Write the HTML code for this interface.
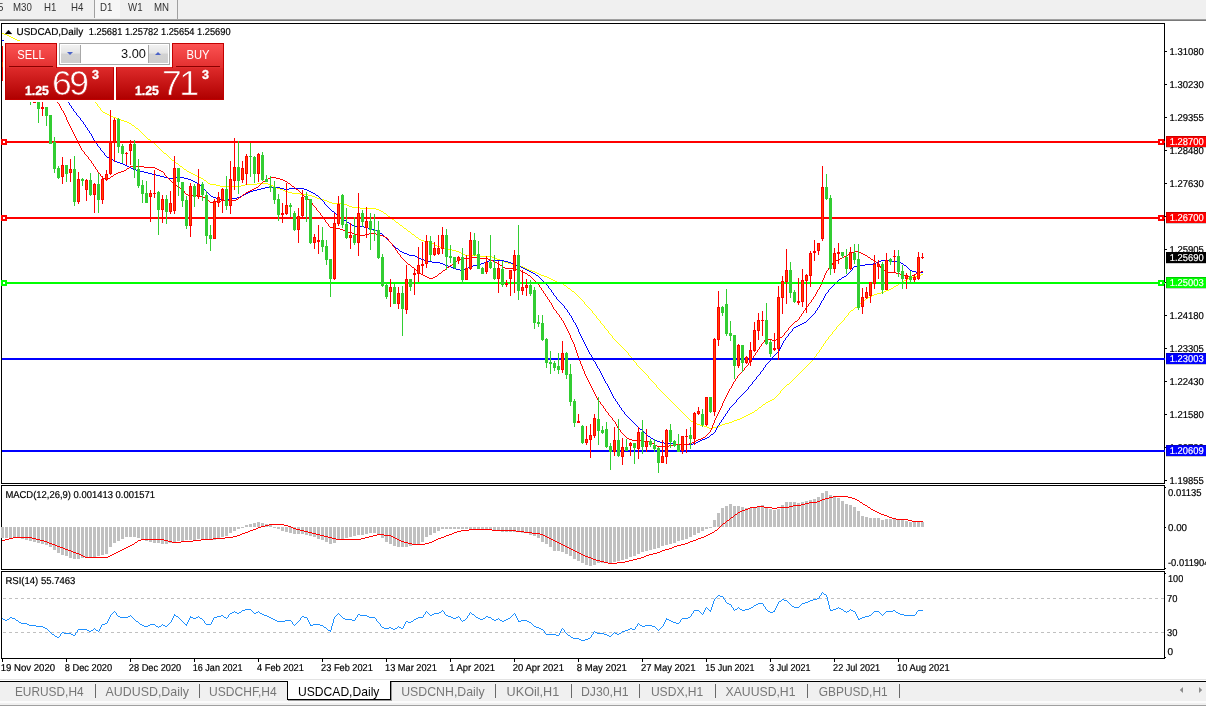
<!DOCTYPE html>
<html lang="en"><head><meta charset="utf-8"><title>USDCAD,Daily</title>
<style>
*{box-sizing:border-box;margin:0;padding:0}
html,body{width:1206px;height:706px;overflow:hidden;background:#fff}
body{position:relative;font-family:"Liberation Sans",Arial,sans-serif;font-size:10px;color:#000}
#toolbar{position:absolute;left:0;top:0;width:1206px;height:19px;background:#f0f0f0}
#toolbar span{position:absolute;top:3.4px;line-height:10px;font-size:10.2px;color:#333;white-space:nowrap;transform:scaleX(.95);transform-origin:0 0}
#tbline1{position:absolute;left:0;top:19px;width:1206px;height:1px;background:#a0a0a0}
#tbline2{position:absolute;left:0;top:20px;width:1206px;height:1px;background:#787878}
#d1btn{position:absolute;left:94px;top:0;width:26px;height:18px;border-left:1px solid #a0a0a0;background:#f6f6f6}
#tbsep{position:absolute;left:177px;top:0;width:1px;height:19px;background:#a0a0a0}
#panel{position:absolute;left:5px;top:43px;width:219px;height:57px}
#pwhite{position:absolute;left:52px;top:0;width:115px;height:25px;background:#fff}
#pbg{position:absolute;left:3px;top:41px;width:223px;height:61px;background:#fff}
.pbtn{position:absolute;top:0;width:52px;height:25px;background:linear-gradient(#fb5252,#e22e2e);border:1px solid #c40000;border-bottom:none;color:#fff;font-size:12px;line-height:12px;text-align:center}
.pbtn b{font-weight:normal;display:block;margin-top:5px;font-size:12.6px;transform:scaleX(.89)}
.pbtn i{position:absolute;left:3px;right:3px;bottom:1px;height:1px;background:#8a0000}
.pprice{position:absolute;top:24px;height:33px;width:109px;background:linear-gradient(#dd2a2a,#b00000);border:1px solid #c00000;border-top-color:#d22;color:#fff}
.pprice .s{position:absolute;font-weight:bold;font-size:12.5px;line-height:12px;bottom:2.5px;transform-origin:0 0;transform:scaleX(.98);-webkit-text-stroke:0.35px #fff}
.pprice .l{position:absolute;font-size:35.5px;line-height:34px;bottom:-0.5px;letter-spacing:-2.6px;margin-left:-1px;-webkit-text-stroke:0.7px #cb1a1a}
.pprice .u{position:absolute;font-weight:bold;font-size:12.5px;line-height:12px;top:0.5px;margin-left:-1px;-webkit-text-stroke:0.35px #fff}
#spin{position:absolute;left:54px;top:0;width:111px;height:22px;border:1px solid #a8a8a8;background:#fff}
#spin .b{position:absolute;top:1px;width:20px;height:18px;background:linear-gradient(#f2f2f2 0%,#e4e4e4 45%,#d2d2d2 50%,#cfcfcf 100%);}
#spin .b.l{border-right:1px solid #a8a8a8}
#spin .b.r{border-left:1px solid #a8a8a8}
#spin .v{position:absolute;right:23px;top:4px;font-size:12.8px;line-height:12px;color:#111}
#tabs{position:absolute;left:0;top:679px;width:1206px;height:27px;background:#f0f0f0}
#tabs .top0{position:absolute;left:0;top:0;width:1206px;height:1px;background:#e3e3e3}
#tabs .top1{position:absolute;left:0;top:1px;width:1206px;height:1px;background:#fff}
#tabs .top{position:absolute;left:0;top:2px;width:1206px;height:1px;background:#000}
#tabs .bot1{position:absolute;left:0;top:22px;width:1206px;height:2px;background:#fbfbfb}
#tabs .bot2{position:absolute;left:0;top:26px;width:1206px;height:1px;background:#a0a0a0}
#tabs span{position:absolute;top:6px;font-size:12px;line-height:12px;color:#7a7a7a;white-space:nowrap}
#tabs u{position:absolute;top:5px;width:1px;height:14px;background:#6a6a6a}
#tabs .act{position:absolute;left:287px;top:2px;width:104px;height:19px;background:#fff;border:1px solid #000;border-top:none;box-shadow:1px 1px 0 #9a9a9a}
#tabs .act span{color:#000;left:11px;top:4px}
</style></head>
<body>
<svg width="1206" height="706" viewBox="0 0 1206 706" shape-rendering="crispEdges" style="position:absolute;left:0;top:0">
<g fill="#000">
<rect x="1" y="23" width="1164" height="1"/>
<rect x="1" y="23" width="1" height="636"/>
<rect x="1164" y="23" width="1" height="636"/>
<rect x="1" y="483" width="1164" height="1"/>
<rect x="1" y="485" width="1164" height="1"/>
<rect x="1" y="569" width="1164" height="1"/>
<rect x="1" y="571" width="1164" height="1"/>
<rect x="1" y="658" width="1164" height="1"/>
<rect x="0" y="484" width="1165" height="1" fill="#fff"/>
<rect x="0" y="570" width="1165" height="1" fill="#fff"/>
<rect x="1165" y="51" width="2" height="1"/>
<rect x="1165" y="84" width="2" height="1"/>
<rect x="1165" y="117" width="2" height="1"/>
<rect x="1165" y="150" width="2" height="1"/>
<rect x="1165" y="183" width="2" height="1"/>
<rect x="1165" y="216" width="2" height="1"/>
<rect x="1165" y="249" width="2" height="1"/>
<rect x="1165" y="282" width="2" height="1"/>
<rect x="1165" y="315" width="2" height="1"/>
<rect x="1165" y="348" width="2" height="1"/>
<rect x="1165" y="381" width="2" height="1"/>
<rect x="1165" y="414" width="2" height="1"/>
<rect x="1165" y="447" width="2" height="1"/>
<rect x="1165" y="480" width="2" height="1"/>
<rect x="1165" y="487" width="1" height="1"/>
<rect x="1165" y="527" width="1" height="1"/>
<rect x="1165" y="568" width="1" height="1"/>
<rect x="1165" y="573" width="1" height="1"/>
<rect x="1165" y="657" width="1" height="1"/>
<rect x="2" y="659" width="1" height="3"/>
<rect x="66" y="659" width="1" height="3"/>
<rect x="130" y="659" width="1" height="3"/>
<rect x="194" y="659" width="1" height="3"/>
<rect x="258" y="659" width="1" height="3"/>
<rect x="322" y="659" width="1" height="3"/>
<rect x="386" y="659" width="1" height="3"/>
<rect x="450" y="659" width="1" height="3"/>
<rect x="514" y="659" width="1" height="3"/>
<rect x="578" y="659" width="1" height="3"/>
<rect x="642" y="659" width="1" height="3"/>
<rect x="706" y="659" width="1" height="3"/>
<rect x="770" y="659" width="1" height="3"/>
<rect x="834" y="659" width="1" height="3"/>
<rect x="898" y="659" width="1" height="3"/>
</g>
<g id="main">
<path fill="#ffff00" d="M2 33h1v1h-1zM3 33h1v1h-1zM4 34h1v1h-1zM5 34h1v1h-1zM6 34h1v1h-1zM7 35h1v1h-1zM8 35h1v1h-1zM9 36h1v1h-1zM10 36h1v1h-1zM11 37h1v1h-1zM12 37h1v1h-1zM13 38h1v1h-1zM14 38h1v1h-1zM15 39h1v1h-1zM16 39h1v1h-1zM17 40h1v1h-1zM18 40h1v1h-1zM19 40h1v1h-1zM20 41h1v1h-1zM21 41h1v1h-1zM22 41h1v1h-1zM23 42h1v1h-1zM24 43h1v1h-1zM25 43h1v1h-1zM26 44h1v1h-1zM27 45h1v1h-1zM28 45h1v1h-1zM29 46h1v1h-1zM30 46h1v1h-1zM31 47h1v1h-1zM32 47h1v1h-1zM33 48h1v1h-1zM34 48h1v1h-1zM35 49h1v1h-1zM36 49h1v1h-1zM37 50h1v1h-1zM38 50h1v1h-1zM39 51h1v1h-1zM40 51h1v1h-1zM41 52h1v1h-1zM42 52h1v1h-1zM43 53h1v1h-1zM44 53h1v1h-1zM45 54h1v1h-1zM46 54h1v1h-1zM47 55h1v1h-1zM48 55h1v1h-1zM49 56h1v1h-1zM50 56h1v1h-1zM51 57h1v1h-1zM52 57h1v1h-1zM53 58h1v1h-1zM54 58h1v1h-1zM55 59h1v1h-1zM56 59h1v1h-1zM57 60h1v1h-1zM58 60h1v1h-1zM59 61h1v1h-1zM60 62h1v1h-1zM61 62h1v1h-1zM62 63h1v1h-1zM63 64h1v1h-1zM64 64h1v1h-1zM65 65h1v1h-1zM66 65h1v1h-1zM67 66h1v1h-1zM68 66h1v1h-1zM69 67h1v1h-1zM70 67h1v1h-1zM71 68h1v2h-1zM72 70h1v1h-1zM73 71h1v2h-1zM74 73h1v1h-1zM75 74h1v1h-1zM76 75h1v2h-1zM77 77h1v1h-1zM78 78h1v1h-1zM79 79h1v2h-1zM80 81h1v1h-1zM81 82h1v2h-1zM82 84h1v1h-1zM83 85h1v1h-1zM84 86h1v2h-1zM85 88h1v1h-1zM86 89h1v1h-1zM87 90h1v2h-1zM88 92h1v1h-1zM89 93h1v2h-1zM90 95h1v1h-1zM91 96h1v1h-1zM92 97h1v2h-1zM93 99h1v1h-1zM94 100h1v1h-1zM95 101h1v2h-1zM96 103h1v1h-1zM97 104h1v2h-1zM98 106h1v1h-1zM99 107h1v1h-1zM100 108h1v2h-1zM101 110h1v1h-1zM102 111h1v1h-1zM103 112h1v1h-1zM104 112h1v1h-1zM105 113h1v1h-1zM106 113h1v1h-1zM107 114h1v1h-1zM108 114h1v1h-1zM109 115h1v1h-1zM110 115h1v1h-1zM111 116h1v1h-1zM112 116h1v1h-1zM113 117h1v1h-1zM114 117h1v1h-1zM115 117h1v1h-1zM116 118h1v1h-1zM117 118h1v1h-1zM118 118h1v1h-1zM119 119h1v1h-1zM120 119h1v1h-1zM121 120h1v1h-1zM122 120h1v1h-1zM123 120h1v1h-1zM124 121h1v1h-1zM125 121h1v1h-1zM126 121h1v1h-1zM127 122h1v1h-1zM128 122h1v1h-1zM129 123h1v1h-1zM130 123h1v1h-1zM131 124h1v1h-1zM132 125h1v1h-1zM133 125h1v1h-1zM134 126h1v1h-1zM135 127h1v1h-1zM136 128h1v1h-1zM137 128h1v1h-1zM138 129h1v1h-1zM139 130h1v1h-1zM140 131h1v1h-1zM141 132h1v1h-1zM142 133h1v1h-1zM143 134h1v1h-1zM144 135h1v1h-1zM145 136h1v1h-1zM146 137h1v1h-1zM147 138h1v1h-1zM148 139h1v1h-1zM149 139h1v1h-1zM150 140h1v1h-1zM151 141h1v1h-1zM152 142h1v1h-1zM153 142h1v1h-1zM154 143h1v1h-1zM155 144h1v1h-1zM156 145h1v1h-1zM157 146h1v1h-1zM158 147h1v1h-1zM159 148h1v1h-1zM160 149h1v1h-1zM161 150h1v1h-1zM162 151h1v1h-1zM163 152h1v1h-1zM164 153h1v1h-1zM165 153h1v1h-1zM166 154h1v1h-1zM167 155h1v1h-1zM168 156h1v1h-1zM169 157h1v1h-1zM170 158h1v1h-1zM171 159h1v1h-1zM172 160h1v1h-1zM173 160h1v1h-1zM174 161h1v1h-1zM175 162h1v1h-1zM176 163h1v1h-1zM177 163h1v1h-1zM178 164h1v1h-1zM179 165h1v1h-1zM180 166h1v1h-1zM181 166h1v1h-1zM182 167h1v1h-1zM183 168h1v1h-1zM184 169h1v1h-1zM185 169h1v1h-1zM186 170h1v1h-1zM187 171h1v1h-1zM188 171h1v1h-1zM189 172h1v1h-1zM190 172h1v1h-1zM191 173h1v1h-1zM192 173h1v1h-1zM193 174h1v1h-1zM194 174h1v1h-1zM195 175h1v1h-1zM196 175h1v1h-1zM197 176h1v1h-1zM198 176h1v1h-1zM199 177h1v1h-1zM200 177h1v1h-1zM201 178h1v1h-1zM202 178h1v1h-1zM203 179h1v1h-1zM204 180h1v1h-1zM205 180h1v1h-1zM206 181h1v1h-1zM207 182h1v1h-1zM208 183h1v1h-1zM209 183h1v1h-1zM210 184h1v1h-1zM211 184h1v1h-1zM212 184h1v1h-1zM213 184h1v1h-1zM214 184h1v1h-1zM215 184h1v1h-1zM216 185h1v1h-1zM217 185h1v1h-1zM218 185h1v1h-1zM219 185h1v1h-1zM220 186h1v1h-1zM221 186h1v1h-1zM222 186h1v1h-1zM223 186h1v1h-1zM224 186h1v1h-1zM225 186h1v1h-1zM226 186h1v1h-1zM227 186h1v1h-1zM228 186h1v1h-1zM229 186h1v1h-1zM230 186h1v1h-1zM231 186h1v1h-1zM232 186h1v1h-1zM233 186h1v1h-1zM234 186h1v1h-1zM235 186h1v1h-1zM236 186h1v1h-1zM237 186h1v1h-1zM238 186h1v1h-1zM239 186h1v1h-1zM240 186h1v1h-1zM241 185h1v1h-1zM242 185h1v1h-1zM243 185h1v1h-1zM244 185h1v1h-1zM245 184h1v1h-1zM246 184h1v1h-1zM247 184h1v1h-1zM248 184h1v1h-1zM249 184h1v1h-1zM250 184h1v1h-1zM251 184h1v1h-1zM252 184h1v1h-1zM253 184h1v1h-1zM254 184h1v1h-1zM255 184h1v1h-1zM256 184h1v1h-1zM257 183h1v1h-1zM258 183h1v1h-1zM259 183h1v1h-1zM260 183h1v1h-1zM261 183h1v1h-1zM262 183h1v1h-1zM263 183h1v1h-1zM264 183h1v1h-1zM265 183h1v1h-1zM266 183h1v1h-1zM267 183h1v1h-1zM268 184h1v1h-1zM269 184h1v1h-1zM270 184h1v1h-1zM271 185h1v1h-1zM272 185h1v1h-1zM273 186h1v1h-1zM274 186h1v1h-1zM275 187h1v1h-1zM276 187h1v1h-1zM277 188h1v1h-1zM278 188h1v1h-1zM279 188h1v1h-1zM280 189h1v1h-1zM281 189h1v1h-1zM282 189h1v1h-1zM283 190h1v1h-1zM284 190h1v1h-1zM285 191h1v1h-1zM286 191h1v1h-1zM287 191h1v1h-1zM288 192h1v1h-1zM289 192h1v1h-1zM290 192h1v1h-1zM291 192h1v1h-1zM292 193h1v1h-1zM293 193h1v1h-1zM294 193h1v1h-1zM295 193h1v1h-1zM296 193h1v1h-1zM297 193h1v1h-1zM298 193h1v1h-1zM299 193h1v1h-1zM300 194h1v1h-1zM301 194h1v1h-1zM302 194h1v1h-1zM303 194h1v1h-1zM304 194h1v1h-1zM305 194h1v1h-1zM306 194h1v1h-1zM307 194h1v1h-1zM308 195h1v1h-1zM309 195h1v1h-1zM310 195h1v1h-1zM311 195h1v1h-1zM312 196h1v1h-1zM313 196h1v1h-1zM314 196h1v1h-1zM315 197h1v1h-1zM316 197h1v1h-1zM317 198h1v1h-1zM318 198h1v1h-1zM319 198h1v1h-1zM320 199h1v1h-1zM321 199h1v1h-1zM322 199h1v1h-1zM323 199h1v1h-1zM324 200h1v1h-1zM325 200h1v1h-1zM326 200h1v1h-1zM327 201h1v1h-1zM328 201h1v1h-1zM329 202h1v1h-1zM330 202h1v1h-1zM331 202h1v1h-1zM332 203h1v1h-1zM333 203h1v1h-1zM334 203h1v1h-1zM335 203h1v1h-1zM336 203h1v1h-1zM337 203h1v1h-1zM338 203h1v1h-1zM339 203h1v1h-1zM340 203h1v1h-1zM341 203h1v1h-1zM342 203h1v1h-1zM343 203h1v1h-1zM344 204h1v1h-1zM345 204h1v1h-1zM346 204h1v1h-1zM347 205h1v1h-1zM348 205h1v1h-1zM349 206h1v1h-1zM350 206h1v1h-1zM351 206h1v1h-1zM352 207h1v1h-1zM353 207h1v1h-1zM354 207h1v1h-1zM355 207h1v1h-1zM356 207h1v1h-1zM357 207h1v1h-1zM358 207h1v1h-1zM359 207h1v1h-1zM360 208h1v1h-1zM361 208h1v1h-1zM362 208h1v1h-1zM363 208h1v1h-1zM364 208h1v1h-1zM365 208h1v1h-1zM366 208h1v1h-1zM367 208h1v1h-1zM368 208h1v1h-1zM369 208h1v1h-1zM370 208h1v1h-1zM371 208h1v1h-1zM372 208h1v1h-1zM373 208h1v1h-1zM374 208h1v1h-1zM375 208h1v1h-1zM376 209h1v1h-1zM377 209h1v1h-1zM378 209h1v1h-1zM379 210h1v1h-1zM380 210h1v1h-1zM381 211h1v1h-1zM382 211h1v1h-1zM383 212h1v1h-1zM384 213h1v1h-1zM385 213h1v1h-1zM386 214h1v1h-1zM387 215h1v1h-1zM388 216h1v1h-1zM389 216h1v1h-1zM390 217h1v1h-1zM391 218h1v1h-1zM392 219h1v1h-1zM393 219h1v1h-1zM394 220h1v1h-1zM395 221h1v1h-1zM396 222h1v1h-1zM397 222h1v1h-1zM398 223h1v1h-1zM399 224h1v1h-1zM400 225h1v1h-1zM401 225h1v1h-1zM402 226h1v1h-1zM403 227h1v1h-1zM404 228h1v1h-1zM405 228h1v1h-1zM406 229h1v1h-1zM407 230h1v1h-1zM408 231h1v1h-1zM409 231h1v1h-1zM410 232h1v1h-1zM411 233h1v1h-1zM412 234h1v1h-1zM413 234h1v1h-1zM414 235h1v1h-1zM415 236h1v1h-1zM416 237h1v1h-1zM417 237h1v1h-1zM418 238h1v1h-1zM419 239h1v1h-1zM420 239h1v1h-1zM421 240h1v1h-1zM422 240h1v1h-1zM423 240h1v1h-1zM424 241h1v1h-1zM425 241h1v1h-1zM426 241h1v1h-1zM427 241h1v1h-1zM428 241h1v1h-1zM429 241h1v1h-1zM430 241h1v1h-1zM431 242h1v1h-1zM432 243h1v1h-1zM433 243h1v1h-1zM434 244h1v1h-1zM435 245h1v1h-1zM436 245h1v1h-1zM437 246h1v1h-1zM438 246h1v1h-1zM439 246h1v1h-1zM440 247h1v1h-1zM441 247h1v1h-1zM442 247h1v1h-1zM443 247h1v1h-1zM444 248h1v1h-1zM445 248h1v1h-1zM446 248h1v1h-1zM447 248h1v1h-1zM448 249h1v1h-1zM449 249h1v1h-1zM450 249h1v1h-1zM451 249h1v1h-1zM452 250h1v1h-1zM453 250h1v1h-1zM454 250h1v1h-1zM455 250h1v1h-1zM456 251h1v1h-1zM457 251h1v1h-1zM458 251h1v1h-1zM459 252h1v1h-1zM460 252h1v1h-1zM461 253h1v1h-1zM462 253h1v1h-1zM463 254h1v1h-1zM464 254h1v1h-1zM465 255h1v1h-1zM466 255h1v1h-1zM467 255h1v1h-1zM468 255h1v1h-1zM469 255h1v1h-1zM470 255h1v1h-1zM471 255h1v1h-1zM472 255h1v1h-1zM473 255h1v1h-1zM474 255h1v1h-1zM475 255h1v1h-1zM476 255h1v1h-1zM477 255h1v1h-1zM478 255h1v1h-1zM479 255h1v1h-1zM480 256h1v1h-1zM481 256h1v1h-1zM482 256h1v1h-1zM483 256h1v1h-1zM484 256h1v1h-1zM485 256h1v1h-1zM486 256h1v1h-1zM487 256h1v1h-1zM488 256h1v1h-1zM489 256h1v1h-1zM490 256h1v1h-1zM491 256h1v1h-1zM492 257h1v1h-1zM493 257h1v1h-1zM494 257h1v1h-1zM495 258h1v1h-1zM496 258h1v1h-1zM497 259h1v1h-1zM498 259h1v1h-1zM499 259h1v1h-1zM500 260h1v1h-1zM501 260h1v1h-1zM502 260h1v1h-1zM503 261h1v1h-1zM504 261h1v1h-1zM505 262h1v1h-1zM506 262h1v1h-1zM507 262h1v1h-1zM508 263h1v1h-1zM509 263h1v1h-1zM510 263h1v1h-1zM511 263h1v1h-1zM512 264h1v1h-1zM513 264h1v1h-1zM514 264h1v1h-1zM515 264h1v1h-1zM516 265h1v1h-1zM517 265h1v1h-1zM518 265h1v1h-1zM519 265h1v1h-1zM520 266h1v1h-1zM521 266h1v1h-1zM522 266h1v1h-1zM523 267h1v1h-1zM524 267h1v1h-1zM525 268h1v1h-1zM526 268h1v1h-1zM527 269h1v1h-1zM528 269h1v1h-1zM529 270h1v1h-1zM530 270h1v1h-1zM531 270h1v1h-1zM532 271h1v1h-1zM533 271h1v1h-1zM534 271h1v1h-1zM535 272h1v1h-1zM536 272h1v1h-1zM537 273h1v1h-1zM538 273h1v1h-1zM539 274h1v1h-1zM540 274h1v1h-1zM541 275h1v1h-1zM542 275h1v1h-1zM543 275h1v1h-1zM544 276h1v1h-1zM545 276h1v1h-1zM546 276h1v1h-1zM547 277h1v1h-1zM548 277h1v1h-1zM549 278h1v1h-1zM550 278h1v1h-1zM551 279h1v1h-1zM552 279h1v1h-1zM553 280h1v1h-1zM554 280h1v1h-1zM555 281h1v1h-1zM556 281h1v1h-1zM557 282h1v1h-1zM558 282h1v1h-1zM559 282h1v1h-1zM560 283h1v1h-1zM561 283h1v1h-1zM562 283h1v1h-1zM563 284h1v1h-1zM564 285h1v1h-1zM565 285h1v1h-1zM566 286h1v1h-1zM567 287h1v1h-1zM568 288h1v1h-1zM569 288h1v1h-1zM570 289h1v1h-1zM571 290h1v1h-1zM572 291h1v1h-1zM573 291h1v1h-1zM574 292h1v1h-1zM575 293h1v1h-1zM576 294h1v1h-1zM577 295h1v1h-1zM578 296h1v1h-1zM579 297h1v1h-1zM580 298h1v1h-1zM581 299h1v1h-1zM582 300h1v1h-1zM583 301h1v1h-1zM584 302h1v2h-1zM585 304h1v1h-1zM586 305h1v1h-1zM587 306h1v1h-1zM588 307h1v1h-1zM589 308h1v1h-1zM590 309h1v1h-1zM591 310h1v1h-1zM592 311h1v2h-1zM593 313h1v1h-1zM594 314h1v1h-1zM595 315h1v1h-1zM596 316h1v2h-1zM597 318h1v1h-1zM598 319h1v1h-1zM599 320h1v1h-1zM600 321h1v2h-1zM601 323h1v1h-1zM602 324h1v1h-1zM603 325h1v1h-1zM604 326h1v2h-1zM605 328h1v1h-1zM606 329h1v1h-1zM607 330h1v1h-1zM608 331h1v2h-1zM609 333h1v1h-1zM610 334h1v1h-1zM611 335h1v1h-1zM612 336h1v2h-1zM613 338h1v1h-1zM614 339h1v1h-1zM615 340h1v1h-1zM616 341h1v1h-1zM617 342h1v1h-1zM618 343h1v1h-1zM619 344h1v1h-1zM620 345h1v1h-1zM621 346h1v1h-1zM622 347h1v1h-1zM623 348h1v1h-1zM624 349h1v1h-1zM625 350h1v1h-1zM626 351h1v1h-1zM627 352h1v1h-1zM628 353h1v2h-1zM629 355h1v1h-1zM630 356h1v1h-1zM631 357h1v1h-1zM632 358h1v2h-1zM633 360h1v1h-1zM634 361h1v1h-1zM635 362h1v1h-1zM636 363h1v2h-1zM637 365h1v1h-1zM638 366h1v1h-1zM639 367h1v1h-1zM640 368h1v1h-1zM641 369h1v1h-1zM642 370h1v1h-1zM643 371h1v1h-1zM644 372h1v1h-1zM645 373h1v1h-1zM646 374h1v1h-1zM647 375h1v1h-1zM648 376h1v2h-1zM649 378h1v1h-1zM650 379h1v1h-1zM651 380h1v1h-1zM652 381h1v1h-1zM653 382h1v1h-1zM654 383h1v1h-1zM655 384h1v1h-1zM656 385h1v2h-1zM657 387h1v1h-1zM658 388h1v1h-1zM659 389h1v1h-1zM660 390h1v1h-1zM661 391h1v1h-1zM662 392h1v1h-1zM663 393h1v1h-1zM664 394h1v1h-1zM665 395h1v1h-1zM666 396h1v1h-1zM667 397h1v1h-1zM668 398h1v1h-1zM669 399h1v1h-1zM670 400h1v1h-1zM671 401h1v1h-1zM672 402h1v1h-1zM673 403h1v1h-1zM674 404h1v1h-1zM675 405h1v1h-1zM676 406h1v1h-1zM677 407h1v1h-1zM678 408h1v1h-1zM679 409h1v1h-1zM680 410h1v1h-1zM681 411h1v1h-1zM682 412h1v1h-1zM683 413h1v1h-1zM684 414h1v1h-1zM685 415h1v1h-1zM686 416h1v1h-1zM687 417h1v1h-1zM688 418h1v1h-1zM689 419h1v1h-1zM690 420h1v1h-1zM691 421h1v1h-1zM692 421h1v1h-1zM693 422h1v1h-1zM694 422h1v1h-1zM695 423h1v1h-1zM696 423h1v1h-1zM697 424h1v1h-1zM698 424h1v1h-1zM699 424h1v1h-1zM700 425h1v1h-1zM701 425h1v1h-1zM702 425h1v1h-1zM703 425h1v1h-1zM704 426h1v1h-1zM705 426h1v1h-1zM706 426h1v1h-1zM707 427h1v1h-1zM708 427h1v1h-1zM709 428h1v1h-1zM710 428h1v1h-1zM711 428h1v1h-1zM712 428h1v1h-1zM713 427h1v1h-1zM714 427h1v1h-1zM715 427h1v1h-1zM716 427h1v1h-1zM717 426h1v1h-1zM718 426h1v1h-1zM719 426h1v1h-1zM720 425h1v1h-1zM721 425h1v1h-1zM722 424h1v1h-1zM723 424h1v1h-1zM724 424h1v1h-1zM725 423h1v1h-1zM726 423h1v1h-1zM727 423h1v1h-1zM728 423h1v1h-1zM729 422h1v1h-1zM730 422h1v1h-1zM731 422h1v1h-1zM732 421h1v1h-1zM733 421h1v1h-1zM734 420h1v1h-1zM735 420h1v1h-1zM736 420h1v1h-1zM737 419h1v1h-1zM738 419h1v1h-1zM739 419h1v1h-1zM740 418h1v1h-1zM741 418h1v1h-1zM742 417h1v1h-1zM743 417h1v1h-1zM744 416h1v1h-1zM745 416h1v1h-1zM746 415h1v1h-1zM747 415h1v1h-1zM748 414h1v1h-1zM749 414h1v1h-1zM750 413h1v1h-1zM751 413h1v1h-1zM752 412h1v1h-1zM753 412h1v1h-1zM754 411h1v1h-1zM755 410h1v1h-1zM756 410h1v1h-1zM757 409h1v1h-1zM758 408h1v1h-1zM759 407h1v1h-1zM760 407h1v1h-1zM761 406h1v1h-1zM762 405h1v1h-1zM763 404h1v1h-1zM764 404h1v1h-1zM765 403h1v1h-1zM766 402h1v1h-1zM767 402h1v1h-1zM768 401h1v1h-1zM769 401h1v1h-1zM770 400h1v1h-1zM771 400h1v1h-1zM772 399h1v1h-1zM773 399h1v1h-1zM774 398h1v1h-1zM775 397h1v1h-1zM776 396h1v1h-1zM777 395h1v1h-1zM778 394h1v1h-1zM779 393h1v1h-1zM780 391h1v2h-1zM781 390h1v1h-1zM782 389h1v1h-1zM783 388h1v1h-1zM784 387h1v1h-1zM785 386h1v1h-1zM786 385h1v1h-1zM787 384h1v1h-1zM788 384h1v1h-1zM789 383h1v1h-1zM790 382h1v1h-1zM791 381h1v1h-1zM792 380h1v1h-1zM793 379h1v1h-1zM794 378h1v1h-1zM795 377h1v1h-1zM796 376h1v1h-1zM797 375h1v1h-1zM798 374h1v1h-1zM799 373h1v1h-1zM800 372h1v1h-1zM801 371h1v1h-1zM802 370h1v1h-1zM803 369h1v1h-1zM804 368h1v1h-1zM805 367h1v1h-1zM806 366h1v1h-1zM807 365h1v1h-1zM808 364h1v1h-1zM809 363h1v1h-1zM810 362h1v1h-1zM811 361h1v1h-1zM812 359h1v2h-1zM813 358h1v1h-1zM814 357h1v1h-1zM815 356h1v1h-1zM816 354h1v2h-1zM817 353h1v1h-1zM818 352h1v1h-1zM819 350h1v2h-1zM820 349h1v1h-1zM821 347h1v2h-1zM822 346h1v1h-1zM823 344h1v2h-1zM824 343h1v1h-1zM825 341h1v2h-1zM826 340h1v1h-1zM827 339h1v1h-1zM828 337h1v2h-1zM829 336h1v1h-1zM830 335h1v1h-1zM831 334h1v1h-1zM832 332h1v2h-1zM833 331h1v1h-1zM834 330h1v1h-1zM835 329h1v1h-1zM836 327h1v2h-1zM837 326h1v1h-1zM838 325h1v1h-1zM839 324h1v1h-1zM840 323h1v1h-1zM841 322h1v1h-1zM842 321h1v1h-1zM843 320h1v1h-1zM844 318h1v2h-1zM845 317h1v1h-1zM846 316h1v1h-1zM847 315h1v1h-1zM848 313h1v2h-1zM849 312h1v1h-1zM850 311h1v1h-1zM851 310h1v1h-1zM852 310h1v1h-1zM853 309h1v1h-1zM854 308h1v1h-1zM855 307h1v1h-1zM856 307h1v1h-1zM857 306h1v1h-1zM858 305h1v1h-1zM859 304h1v1h-1zM860 303h1v1h-1zM861 302h1v1h-1zM862 301h1v1h-1zM863 300h1v1h-1zM864 300h1v1h-1zM865 299h1v1h-1zM866 298h1v1h-1zM867 298h1v1h-1zM868 297h1v1h-1zM869 297h1v1h-1zM870 296h1v1h-1zM871 296h1v1h-1zM872 295h1v1h-1zM873 295h1v1h-1zM874 294h1v1h-1zM875 294h1v1h-1zM876 294h1v1h-1zM877 293h1v1h-1zM878 293h1v1h-1zM879 293h1v1h-1zM880 293h1v1h-1zM881 292h1v1h-1zM882 292h1v1h-1zM883 292h1v1h-1zM884 291h1v1h-1zM885 291h1v1h-1zM886 290h1v1h-1zM887 290h1v1h-1zM888 290h1v1h-1zM889 289h1v1h-1zM890 289h1v1h-1zM891 288h1v1h-1zM892 288h1v1h-1zM893 287h1v1h-1zM894 286h1v1h-1zM895 286h1v1h-1zM896 285h1v1h-1zM897 285h1v1h-1zM898 284h1v1h-1zM899 283h1v1h-1zM900 283h1v1h-1zM901 282h1v1h-1zM902 281h1v1h-1zM903 281h1v1h-1zM904 280h1v1h-1zM905 280h1v1h-1zM906 279h1v1h-1zM907 279h1v1h-1zM908 278h1v1h-1zM909 278h1v1h-1zM910 277h1v1h-1zM911 277h1v1h-1zM912 277h1v1h-1zM913 276h1v1h-1zM914 276h1v1h-1zM915 276h1v1h-1zM916 276h1v1h-1zM917 275h1v1h-1zM918 275h1v1h-1zM919 275h1v1h-1zM920 275h1v1h-1zM921 274h1v1h-1zM922 274h1v1h-1z"/>

<path fill="#0000ff" d="M42 64h1v1h-1zM43 65h1v2h-1zM44 67h1v1h-1zM45 68h1v2h-1zM46 70h1v1h-1zM47 71h1v2h-1zM48 73h1v1h-1zM49 74h1v2h-1zM50 76h1v1h-1zM51 77h1v2h-1zM52 79h1v1h-1zM53 80h1v2h-1zM54 82h1v1h-1zM55 83h1v2h-1zM56 85h1v1h-1zM57 86h1v2h-1zM58 88h1v1h-1zM59 89h1v1h-1zM60 90h1v2h-1zM61 92h1v1h-1zM62 93h1v1h-1zM63 94h1v2h-1zM64 96h1v1h-1zM65 97h1v2h-1zM66 99h1v1h-1zM67 100h1v2h-1zM68 102h1v1h-1zM69 103h1v2h-1zM70 105h1v1h-1zM71 106h1v2h-1zM72 108h1v1h-1zM73 109h1v2h-1zM74 111h1v1h-1zM75 112h1v1h-1zM76 113h1v2h-1zM77 115h1v1h-1zM78 116h1v1h-1zM79 117h1v1h-1zM80 118h1v2h-1zM81 120h1v1h-1zM82 121h1v1h-1zM83 122h1v2h-1zM84 124h1v1h-1zM85 125h1v2h-1zM86 127h1v1h-1zM87 128h1v2h-1zM88 130h1v1h-1zM89 131h1v2h-1zM90 133h1v1h-1zM91 134h1v2h-1zM92 136h1v2h-1zM93 138h1v2h-1zM94 140h1v1h-1zM95 141h1v2h-1zM96 143h1v1h-1zM97 144h1v2h-1zM98 146h1v1h-1zM99 147h1v1h-1zM100 148h1v2h-1zM101 150h1v1h-1zM102 151h1v1h-1zM103 152h1v1h-1zM104 153h1v2h-1zM105 155h1v1h-1zM106 156h1v1h-1zM107 157h1v1h-1zM108 157h1v1h-1zM109 158h1v1h-1zM110 158h1v1h-1zM111 159h1v1h-1zM112 159h1v1h-1zM113 160h1v1h-1zM114 160h1v1h-1zM115 161h1v1h-1zM116 161h1v1h-1zM117 162h1v1h-1zM118 162h1v1h-1zM119 162h1v1h-1zM120 163h1v1h-1zM121 163h1v1h-1zM122 163h1v1h-1zM123 164h1v1h-1zM124 164h1v1h-1zM125 165h1v1h-1zM126 165h1v1h-1zM127 166h1v1h-1zM128 166h1v1h-1zM129 167h1v1h-1zM130 167h1v1h-1zM131 168h1v1h-1zM132 168h1v1h-1zM133 169h1v1h-1zM134 169h1v1h-1zM135 169h1v1h-1zM136 170h1v1h-1zM137 170h1v1h-1zM138 170h1v1h-1zM139 170h1v1h-1zM140 171h1v1h-1zM141 171h1v1h-1zM142 171h1v1h-1zM143 171h1v1h-1zM144 172h1v1h-1zM145 172h1v1h-1zM146 172h1v1h-1zM147 172h1v1h-1zM148 173h1v1h-1zM149 173h1v1h-1zM150 173h1v1h-1zM151 173h1v1h-1zM152 174h1v1h-1zM153 174h1v1h-1zM154 174h1v1h-1zM155 174h1v1h-1zM156 175h1v1h-1zM157 175h1v1h-1zM158 175h1v1h-1zM159 175h1v1h-1zM160 176h1v1h-1zM161 176h1v1h-1zM162 176h1v1h-1zM163 176h1v1h-1zM164 177h1v1h-1zM165 177h1v1h-1zM166 177h1v1h-1zM167 177h1v1h-1zM168 178h1v1h-1zM169 178h1v1h-1zM170 178h1v1h-1zM171 178h1v1h-1zM172 178h1v1h-1zM173 177h1v1h-1zM174 177h1v1h-1zM175 177h1v1h-1zM176 177h1v1h-1zM177 177h1v1h-1zM178 177h1v1h-1zM179 177h1v1h-1zM180 177h1v1h-1zM181 177h1v1h-1zM182 177h1v1h-1zM183 177h1v1h-1zM184 178h1v1h-1zM185 178h1v1h-1zM186 178h1v1h-1zM187 178h1v1h-1zM188 179h1v1h-1zM189 179h1v1h-1zM190 179h1v1h-1zM191 180h1v1h-1zM192 180h1v1h-1zM193 181h1v1h-1zM194 181h1v1h-1zM195 182h1v1h-1zM196 182h1v1h-1zM197 183h1v1h-1zM198 183h1v1h-1zM199 184h1v1h-1zM200 185h1v1h-1zM201 186h1v1h-1zM202 187h1v1h-1zM203 188h1v1h-1zM204 189h1v1h-1zM205 190h1v1h-1zM206 191h1v1h-1zM207 192h1v1h-1zM208 193h1v1h-1zM209 194h1v1h-1zM210 195h1v1h-1zM211 196h1v1h-1zM212 196h1v1h-1zM213 197h1v1h-1zM214 197h1v1h-1zM215 197h1v1h-1zM216 198h1v1h-1zM217 198h1v1h-1zM218 198h1v1h-1zM219 199h1v1h-1zM220 199h1v1h-1zM221 200h1v1h-1zM222 200h1v1h-1zM223 200h1v1h-1zM224 200h1v1h-1zM225 199h1v1h-1zM226 199h1v1h-1zM227 199h1v1h-1zM228 199h1v1h-1zM229 198h1v1h-1zM230 198h1v1h-1zM231 198h1v1h-1zM232 198h1v1h-1zM233 198h1v1h-1zM234 198h1v1h-1zM235 198h1v1h-1zM236 198h1v1h-1zM237 197h1v1h-1zM238 197h1v1h-1zM239 197h1v1h-1zM240 196h1v1h-1zM241 196h1v1h-1zM242 195h1v1h-1zM243 195h1v1h-1zM244 194h1v1h-1zM245 194h1v1h-1zM246 193h1v1h-1zM247 193h1v1h-1zM248 192h1v1h-1zM249 192h1v1h-1zM250 191h1v1h-1zM251 191h1v1h-1zM252 191h1v1h-1zM253 190h1v1h-1zM254 190h1v1h-1zM255 190h1v1h-1zM256 190h1v1h-1zM257 189h1v1h-1zM258 189h1v1h-1zM259 189h1v1h-1zM260 189h1v1h-1zM261 188h1v1h-1zM262 188h1v1h-1zM263 188h1v1h-1zM264 188h1v1h-1zM265 187h1v1h-1zM266 187h1v1h-1zM267 187h1v1h-1zM268 187h1v1h-1zM269 186h1v1h-1zM270 186h1v1h-1zM271 186h1v1h-1zM272 187h1v1h-1zM273 187h1v1h-1zM274 187h1v1h-1zM275 187h1v1h-1zM276 187h1v1h-1zM277 187h1v1h-1zM278 187h1v1h-1zM279 187h1v1h-1zM280 188h1v1h-1zM281 188h1v1h-1zM282 188h1v1h-1zM283 188h1v1h-1zM284 189h1v1h-1zM285 189h1v1h-1zM286 189h1v1h-1zM287 189h1v1h-1zM288 189h1v1h-1zM289 188h1v1h-1zM290 188h1v1h-1zM291 188h1v1h-1zM292 188h1v1h-1zM293 188h1v1h-1zM294 188h1v1h-1zM295 188h1v1h-1zM296 188h1v1h-1zM297 188h1v1h-1zM298 188h1v1h-1zM299 188h1v1h-1zM300 188h1v1h-1zM301 188h1v1h-1zM302 188h1v1h-1zM303 188h1v1h-1zM304 189h1v1h-1zM305 189h1v1h-1zM306 189h1v1h-1zM307 190h1v1h-1zM308 190h1v1h-1zM309 191h1v1h-1zM310 191h1v1h-1zM311 192h1v1h-1zM312 192h1v1h-1zM313 193h1v1h-1zM314 193h1v1h-1zM315 194h1v1h-1zM316 195h1v1h-1zM317 195h1v1h-1zM318 196h1v1h-1zM319 197h1v1h-1zM320 198h1v1h-1zM321 199h1v1h-1zM322 200h1v1h-1zM323 201h1v1h-1zM324 202h1v2h-1zM325 204h1v1h-1zM326 205h1v1h-1zM327 206h1v1h-1zM328 207h1v1h-1zM329 208h1v1h-1zM330 209h1v1h-1zM331 210h1v1h-1zM332 211h1v1h-1zM333 211h1v1h-1zM334 212h1v1h-1zM335 213h1v1h-1zM336 214h1v1h-1zM337 214h1v1h-1zM338 215h1v1h-1zM339 216h1v1h-1zM340 217h1v1h-1zM341 217h1v1h-1zM342 218h1v1h-1zM343 219h1v1h-1zM344 220h1v1h-1zM345 220h1v1h-1zM346 221h1v1h-1zM347 222h1v1h-1zM348 222h1v1h-1zM349 223h1v1h-1zM350 223h1v1h-1zM351 224h1v1h-1zM352 225h1v1h-1zM353 225h1v1h-1zM354 226h1v1h-1zM355 226h1v1h-1zM356 226h1v1h-1zM357 226h1v1h-1zM358 226h1v1h-1zM359 226h1v1h-1zM360 226h1v1h-1zM361 226h1v1h-1zM362 226h1v1h-1zM363 226h1v1h-1zM364 227h1v1h-1zM365 227h1v1h-1zM366 227h1v1h-1zM367 227h1v1h-1zM368 228h1v1h-1zM369 228h1v1h-1zM370 228h1v1h-1zM371 228h1v1h-1zM372 229h1v1h-1zM373 229h1v1h-1zM374 229h1v1h-1zM375 230h1v1h-1zM376 230h1v1h-1zM377 231h1v1h-1zM378 231h1v1h-1zM379 232h1v1h-1zM380 233h1v1h-1zM381 233h1v1h-1zM382 234h1v1h-1zM383 235h1v1h-1zM384 236h1v1h-1zM385 237h1v1h-1zM386 238h1v1h-1zM387 239h1v1h-1zM388 240h1v1h-1zM389 241h1v1h-1zM390 242h1v1h-1zM391 243h1v1h-1zM392 244h1v1h-1zM393 245h1v1h-1zM394 246h1v1h-1zM395 247h1v1h-1zM396 248h1v1h-1zM397 248h1v1h-1zM398 249h1v1h-1zM399 250h1v1h-1zM400 251h1v1h-1zM401 251h1v1h-1zM402 252h1v1h-1zM403 252h1v1h-1zM404 253h1v1h-1zM405 253h1v1h-1zM406 253h1v1h-1zM407 254h1v1h-1zM408 254h1v1h-1zM409 255h1v1h-1zM410 255h1v1h-1zM411 255h1v1h-1zM412 255h1v1h-1zM413 255h1v1h-1zM414 255h1v1h-1zM415 256h1v1h-1zM416 256h1v1h-1zM417 257h1v1h-1zM418 257h1v1h-1zM419 258h1v1h-1zM420 258h1v1h-1zM421 259h1v1h-1zM422 259h1v1h-1zM423 259h1v1h-1zM424 260h1v1h-1zM425 260h1v1h-1zM426 260h1v1h-1zM427 260h1v1h-1zM428 261h1v1h-1zM429 261h1v1h-1zM430 261h1v1h-1zM431 261h1v1h-1zM432 262h1v1h-1zM433 262h1v1h-1zM434 262h1v1h-1zM435 262h1v1h-1zM436 262h1v1h-1zM437 262h1v1h-1zM438 262h1v1h-1zM439 262h1v1h-1zM440 263h1v1h-1zM441 263h1v1h-1zM442 263h1v1h-1zM443 264h1v1h-1zM444 264h1v1h-1zM445 265h1v1h-1zM446 265h1v1h-1zM447 265h1v1h-1zM448 266h1v1h-1zM449 266h1v1h-1zM450 266h1v1h-1zM451 267h1v1h-1zM452 267h1v1h-1zM453 268h1v1h-1zM454 268h1v1h-1zM455 268h1v1h-1zM456 269h1v1h-1zM457 269h1v1h-1zM458 269h1v1h-1zM459 269h1v1h-1zM460 270h1v1h-1zM461 270h1v1h-1zM462 270h1v1h-1zM463 270h1v1h-1zM464 269h1v1h-1zM465 269h1v1h-1zM466 268h1v1h-1zM467 268h1v1h-1zM468 267h1v1h-1zM469 267h1v1h-1zM470 266h1v1h-1zM471 266h1v1h-1zM472 266h1v1h-1zM473 265h1v1h-1zM474 265h1v1h-1zM475 265h1v1h-1zM476 265h1v1h-1zM477 264h1v1h-1zM478 264h1v1h-1zM479 264h1v1h-1zM480 264h1v1h-1zM481 263h1v1h-1zM482 263h1v1h-1zM483 263h1v1h-1zM484 262h1v1h-1zM485 262h1v1h-1zM486 261h1v1h-1zM487 261h1v1h-1zM488 261h1v1h-1zM489 260h1v1h-1zM490 260h1v1h-1zM491 260h1v1h-1zM492 260h1v1h-1zM493 260h1v1h-1zM494 260h1v1h-1zM495 260h1v1h-1zM496 260h1v1h-1zM497 260h1v1h-1zM498 260h1v1h-1zM499 260h1v1h-1zM500 260h1v1h-1zM501 260h1v1h-1zM502 260h1v1h-1zM503 260h1v1h-1zM504 261h1v1h-1zM505 261h1v1h-1zM506 261h1v1h-1zM507 261h1v1h-1zM508 262h1v1h-1zM509 262h1v1h-1zM510 262h1v1h-1zM511 263h1v1h-1zM512 263h1v1h-1zM513 264h1v1h-1zM514 264h1v1h-1zM515 264h1v1h-1zM516 265h1v1h-1zM517 265h1v1h-1zM518 265h1v1h-1zM519 266h1v1h-1zM520 266h1v1h-1zM521 267h1v1h-1zM522 267h1v1h-1zM523 268h1v1h-1zM524 268h1v1h-1zM525 269h1v1h-1zM526 269h1v1h-1zM527 270h1v1h-1zM528 270h1v1h-1zM529 271h1v1h-1zM530 271h1v1h-1zM531 272h1v1h-1zM532 272h1v1h-1zM533 273h1v1h-1zM534 273h1v1h-1zM535 274h1v1h-1zM536 275h1v1h-1zM537 275h1v1h-1zM538 276h1v1h-1zM539 277h1v1h-1zM540 278h1v1h-1zM541 279h1v1h-1zM542 280h1v1h-1zM543 281h1v1h-1zM544 282h1v1h-1zM545 283h1v1h-1zM546 284h1v1h-1zM547 285h1v1h-1zM548 286h1v2h-1zM549 288h1v1h-1zM550 289h1v1h-1zM551 290h1v2h-1zM552 292h1v1h-1zM553 293h1v2h-1zM554 295h1v1h-1zM555 296h1v1h-1zM556 297h1v2h-1zM557 299h1v1h-1zM558 300h1v1h-1zM559 301h1v1h-1zM560 302h1v1h-1zM561 303h1v1h-1zM562 304h1v1h-1zM563 305h1v1h-1zM564 306h1v2h-1zM565 308h1v1h-1zM566 309h1v1h-1zM567 310h1v2h-1zM568 312h1v1h-1zM569 313h1v2h-1zM570 315h1v1h-1zM571 316h1v2h-1zM572 318h1v2h-1zM573 320h1v2h-1zM574 322h1v1h-1zM575 323h1v2h-1zM576 325h1v2h-1zM577 327h1v2h-1zM578 329h1v3h-1zM579 332h1v2h-1zM580 334h1v2h-1zM581 336h1v2h-1zM582 338h1v2h-1zM583 340h1v2h-1zM584 342h1v2h-1zM585 344h1v2h-1zM586 346h1v2h-1zM587 348h1v2h-1zM588 350h1v2h-1zM589 352h1v2h-1zM590 354h1v1h-1zM591 355h1v2h-1zM592 357h1v2h-1zM593 359h1v2h-1zM594 361h1v1h-1zM595 362h1v2h-1zM596 364h1v2h-1zM597 366h1v2h-1zM598 368h1v1h-1zM599 369h1v2h-1zM600 371h1v2h-1zM601 373h1v2h-1zM602 375h1v2h-1zM603 377h1v2h-1zM604 379h1v2h-1zM605 381h1v2h-1zM606 383h1v1h-1zM607 384h1v2h-1zM608 386h1v2h-1zM609 388h1v2h-1zM610 390h1v2h-1zM611 392h1v2h-1zM612 394h1v2h-1zM613 396h1v2h-1zM614 398h1v1h-1zM615 399h1v2h-1zM616 401h1v1h-1zM617 402h1v2h-1zM618 404h1v1h-1zM619 405h1v2h-1zM620 407h1v1h-1zM621 408h1v2h-1zM622 410h1v1h-1zM623 411h1v1h-1zM624 412h1v2h-1zM625 414h1v1h-1zM626 415h1v1h-1zM627 416h1v1h-1zM628 417h1v1h-1zM629 418h1v1h-1zM630 419h1v1h-1zM631 420h1v1h-1zM632 421h1v1h-1zM633 422h1v1h-1zM634 423h1v1h-1zM635 424h1v1h-1zM636 425h1v1h-1zM637 426h1v1h-1zM638 427h1v1h-1zM639 428h1v1h-1zM640 429h1v1h-1zM641 429h1v1h-1zM642 430h1v1h-1zM643 431h1v1h-1zM644 432h1v1h-1zM645 433h1v1h-1zM646 434h1v1h-1zM647 435h1v1h-1zM648 436h1v1h-1zM649 436h1v1h-1zM650 437h1v1h-1zM651 438h1v1h-1zM652 438h1v1h-1zM653 439h1v1h-1zM654 439h1v1h-1zM655 440h1v1h-1zM656 440h1v1h-1zM657 441h1v1h-1zM658 441h1v1h-1zM659 441h1v1h-1zM660 442h1v1h-1zM661 442h1v1h-1zM662 442h1v1h-1zM663 442h1v1h-1zM664 443h1v1h-1zM665 443h1v1h-1zM666 443h1v1h-1zM667 443h1v1h-1zM668 443h1v1h-1zM669 443h1v1h-1zM670 443h1v1h-1zM671 443h1v1h-1zM672 443h1v1h-1zM673 443h1v1h-1zM674 443h1v1h-1zM675 443h1v1h-1zM676 444h1v1h-1zM677 444h1v1h-1zM678 444h1v1h-1zM679 444h1v1h-1zM680 444h1v1h-1zM681 444h1v1h-1zM682 444h1v1h-1zM683 444h1v1h-1zM684 444h1v1h-1zM685 444h1v1h-1zM686 444h1v1h-1zM687 444h1v1h-1zM688 444h1v1h-1zM689 444h1v1h-1zM690 444h1v1h-1zM691 444h1v1h-1zM692 444h1v1h-1zM693 443h1v1h-1zM694 443h1v1h-1zM695 443h1v1h-1zM696 442h1v1h-1zM697 442h1v1h-1zM698 441h1v1h-1zM699 441h1v1h-1zM700 440h1v1h-1zM701 440h1v1h-1zM702 439h1v1h-1zM703 439h1v1h-1zM704 439h1v1h-1zM705 438h1v1h-1zM706 438h1v1h-1zM707 437h1v1h-1zM708 437h1v1h-1zM709 436h1v1h-1zM710 435h1v1h-1zM711 434h1v1h-1zM712 434h1v1h-1zM713 433h1v1h-1zM714 432h1v1h-1zM715 430h1v2h-1zM716 428h1v2h-1zM717 426h1v2h-1zM718 425h1v1h-1zM719 423h1v2h-1zM720 422h1v1h-1zM721 420h1v2h-1zM722 419h1v1h-1zM723 417h1v2h-1zM724 416h1v1h-1zM725 414h1v2h-1zM726 413h1v1h-1zM727 411h1v2h-1zM728 410h1v1h-1zM729 408h1v2h-1zM730 407h1v1h-1zM731 406h1v1h-1zM732 405h1v1h-1zM733 404h1v1h-1zM734 403h1v1h-1zM735 402h1v1h-1zM736 400h1v2h-1zM737 399h1v1h-1zM738 398h1v1h-1zM739 397h1v1h-1zM740 396h1v1h-1zM741 395h1v1h-1zM742 394h1v1h-1zM743 393h1v1h-1zM744 392h1v1h-1zM745 391h1v1h-1zM746 390h1v1h-1zM747 389h1v1h-1zM748 387h1v2h-1zM749 386h1v1h-1zM750 385h1v1h-1zM751 384h1v1h-1zM752 382h1v2h-1zM753 381h1v1h-1zM754 380h1v1h-1zM755 379h1v1h-1zM756 377h1v2h-1zM757 376h1v1h-1zM758 375h1v1h-1zM759 374h1v1h-1zM760 372h1v2h-1zM761 371h1v1h-1zM762 370h1v1h-1zM763 368h1v2h-1zM764 367h1v1h-1zM765 365h1v2h-1zM766 364h1v1h-1zM767 363h1v1h-1zM768 362h1v1h-1zM769 361h1v1h-1zM770 360h1v1h-1zM771 359h1v1h-1zM772 357h1v2h-1zM773 356h1v1h-1zM774 355h1v1h-1zM775 354h1v1h-1zM776 353h1v1h-1zM777 352h1v1h-1zM778 351h1v1h-1zM779 349h1v2h-1zM780 347h1v2h-1zM781 345h1v2h-1zM782 343h1v2h-1zM783 341h1v2h-1zM784 340h1v1h-1zM785 338h1v2h-1zM786 337h1v1h-1zM787 336h1v1h-1zM788 334h1v2h-1zM789 333h1v1h-1zM790 332h1v1h-1zM791 331h1v1h-1zM792 329h1v2h-1zM793 328h1v1h-1zM794 327h1v1h-1zM795 327h1v1h-1zM796 326h1v1h-1zM797 326h1v1h-1zM798 325h1v1h-1zM799 325h1v1h-1zM800 324h1v1h-1zM801 324h1v1h-1zM802 323h1v1h-1zM803 323h1v1h-1zM804 322h1v1h-1zM805 322h1v1h-1zM806 321h1v1h-1zM807 320h1v1h-1zM808 319h1v1h-1zM809 318h1v1h-1zM810 317h1v1h-1zM811 316h1v1h-1zM812 315h1v1h-1zM813 314h1v1h-1zM814 313h1v1h-1zM815 311h1v2h-1zM816 310h1v1h-1zM817 308h1v2h-1zM818 307h1v1h-1zM819 305h1v2h-1zM820 303h1v2h-1zM821 301h1v2h-1zM822 300h1v1h-1zM823 298h1v2h-1zM824 296h1v2h-1zM825 294h1v2h-1zM826 293h1v1h-1zM827 292h1v1h-1zM828 290h1v2h-1zM829 289h1v1h-1zM830 288h1v1h-1zM831 287h1v1h-1zM832 286h1v1h-1zM833 285h1v1h-1zM834 284h1v1h-1zM835 283h1v1h-1zM836 282h1v1h-1zM837 281h1v1h-1zM838 280h1v1h-1zM839 279h1v1h-1zM840 279h1v1h-1zM841 278h1v1h-1zM842 277h1v1h-1zM843 277h1v1h-1zM844 276h1v1h-1zM845 276h1v1h-1zM846 275h1v1h-1zM847 274h1v1h-1zM848 273h1v1h-1zM849 272h1v1h-1zM850 271h1v1h-1zM851 270h1v1h-1zM852 268h1v2h-1zM853 267h1v1h-1zM854 266h1v1h-1zM855 266h1v1h-1zM856 266h1v1h-1zM857 265h1v1h-1zM858 265h1v1h-1zM859 265h1v1h-1zM860 265h1v1h-1zM861 265h1v1h-1zM862 265h1v1h-1zM863 265h1v1h-1zM864 265h1v1h-1zM865 264h1v1h-1zM866 264h1v1h-1zM867 264h1v1h-1zM868 264h1v1h-1zM869 264h1v1h-1zM870 264h1v1h-1zM871 264h1v1h-1zM872 264h1v1h-1zM873 263h1v1h-1zM874 263h1v1h-1zM875 263h1v1h-1zM876 262h1v1h-1zM877 262h1v1h-1zM878 261h1v1h-1zM879 261h1v1h-1zM880 261h1v1h-1zM881 260h1v1h-1zM882 260h1v1h-1zM883 260h1v1h-1zM884 260h1v1h-1zM885 260h1v1h-1zM886 260h1v1h-1zM887 260h1v1h-1zM888 260h1v1h-1zM889 260h1v1h-1zM890 260h1v1h-1zM891 260h1v1h-1zM892 261h1v1h-1zM893 261h1v1h-1zM894 261h1v1h-1zM895 261h1v1h-1zM896 261h1v1h-1zM897 261h1v1h-1zM898 261h1v1h-1zM899 262h1v1h-1zM900 262h1v1h-1zM901 263h1v1h-1zM902 263h1v1h-1zM903 264h1v1h-1zM904 265h1v1h-1zM905 265h1v1h-1zM906 266h1v1h-1zM907 267h1v1h-1zM908 268h1v1h-1zM909 269h1v1h-1zM910 270h1v1h-1zM911 270h1v1h-1zM912 271h1v1h-1zM913 271h1v1h-1zM914 271h1v1h-1zM915 271h1v1h-1zM916 272h1v1h-1zM917 272h1v1h-1zM918 272h1v1h-1zM919 272h1v1h-1zM920 272h1v1h-1zM921 272h1v1h-1zM922 272h1v1h-1z"/>

<rect x="2" y="40" width="2" height="1" fill="#0000ff"/>
<path fill="#ff0000" d="M30 54h1v1h-1zM31 55h1v2h-1zM32 57h1v2h-1zM33 59h1v2h-1zM34 61h1v1h-1zM35 62h1v2h-1zM36 64h1v2h-1zM37 66h1v2h-1zM38 68h1v1h-1zM39 69h1v2h-1zM40 71h1v2h-1zM41 73h1v2h-1zM42 75h1v1h-1zM43 76h1v2h-1zM44 78h1v2h-1zM45 80h1v2h-1zM46 82h1v1h-1zM47 83h1v2h-1zM48 85h1v2h-1zM49 87h1v2h-1zM50 89h1v1h-1zM51 90h1v2h-1zM52 92h1v2h-1zM53 94h1v2h-1zM54 96h1v1h-1zM55 97h1v2h-1zM56 99h1v2h-1zM57 101h1v2h-1zM58 103h1v1h-1zM59 104h1v2h-1zM60 106h1v2h-1zM61 108h1v2h-1zM62 110h1v1h-1zM63 111h1v2h-1zM64 113h1v2h-1zM65 115h1v2h-1zM66 117h1v3h-1zM67 120h1v2h-1zM68 122h1v2h-1zM69 124h1v2h-1zM70 126h1v2h-1zM71 128h1v2h-1zM72 130h1v2h-1zM73 132h1v2h-1zM74 134h1v2h-1zM75 136h1v2h-1zM76 138h1v2h-1zM77 140h1v2h-1zM78 142h1v2h-1zM79 144h1v2h-1zM80 146h1v2h-1zM81 148h1v2h-1zM82 150h1v1h-1zM83 151h1v1h-1zM84 152h1v2h-1zM85 154h1v1h-1zM86 155h1v1h-1zM87 156h1v1h-1zM88 157h1v2h-1zM89 159h1v1h-1zM90 160h1v1h-1zM91 161h1v2h-1zM92 163h1v1h-1zM93 164h1v2h-1zM94 166h1v1h-1zM95 167h1v2h-1zM96 169h1v1h-1zM97 170h1v2h-1zM98 172h1v1h-1zM99 173h1v1h-1zM100 174h1v2h-1zM101 176h1v1h-1zM102 177h1v1h-1zM103 178h1v1h-1zM104 178h1v1h-1zM105 179h1v1h-1zM106 179h1v1h-1zM107 179h1v1h-1zM108 178h1v1h-1zM109 178h1v1h-1zM110 177h1v1h-1zM111 176h1v1h-1zM112 176h1v1h-1zM113 175h1v1h-1zM114 174h1v1h-1zM115 174h1v1h-1zM116 173h1v1h-1zM117 173h1v1h-1zM118 172h1v1h-1zM119 172h1v1h-1zM120 172h1v1h-1zM121 171h1v1h-1zM122 171h1v1h-1zM123 171h1v1h-1zM124 170h1v1h-1zM125 170h1v1h-1zM126 169h1v1h-1zM127 168h1v1h-1zM128 168h1v1h-1zM129 167h1v1h-1zM130 166h1v1h-1zM131 166h1v1h-1zM132 166h1v1h-1zM133 165h1v1h-1zM134 165h1v1h-1zM135 165h1v1h-1zM136 166h1v1h-1zM137 166h1v1h-1zM138 166h1v1h-1zM139 166h1v1h-1zM140 166h1v1h-1zM141 166h1v1h-1zM142 166h1v1h-1zM143 166h1v1h-1zM144 167h1v1h-1zM145 167h1v1h-1zM146 167h1v1h-1zM147 167h1v1h-1zM148 167h1v1h-1zM149 167h1v1h-1zM150 167h1v1h-1zM151 167h1v1h-1zM152 167h1v1h-1zM153 167h1v1h-1zM154 167h1v1h-1zM155 168h1v1h-1zM156 168h1v1h-1zM157 169h1v1h-1zM158 169h1v1h-1zM159 170h1v1h-1zM160 170h1v1h-1zM161 171h1v1h-1zM162 171h1v1h-1zM163 172h1v1h-1zM164 173h1v2h-1zM165 175h1v1h-1zM166 176h1v1h-1zM167 177h1v1h-1zM168 178h1v1h-1zM169 179h1v1h-1zM170 180h1v1h-1zM171 181h1v1h-1zM172 182h1v1h-1zM173 183h1v1h-1zM174 184h1v1h-1zM175 185h1v1h-1zM176 185h1v1h-1zM177 186h1v1h-1zM178 186h1v1h-1zM179 187h1v1h-1zM180 188h1v1h-1zM181 188h1v1h-1zM182 189h1v1h-1zM183 190h1v1h-1zM184 191h1v2h-1zM185 193h1v1h-1zM186 194h1v1h-1zM187 194h1v1h-1zM188 195h1v1h-1zM189 195h1v1h-1zM190 195h1v1h-1zM191 195h1v1h-1zM192 195h1v1h-1zM193 195h1v1h-1zM194 195h1v1h-1zM195 195h1v1h-1zM196 195h1v1h-1zM197 195h1v1h-1zM198 195h1v1h-1zM199 195h1v1h-1zM200 196h1v1h-1zM201 196h1v1h-1zM202 196h1v1h-1zM203 197h1v1h-1zM204 197h1v1h-1zM205 198h1v1h-1zM206 198h1v1h-1zM207 199h1v1h-1zM208 200h1v1h-1zM209 201h1v1h-1zM210 202h1v1h-1zM211 202h1v1h-1zM212 202h1v1h-1zM213 201h1v1h-1zM214 201h1v1h-1zM215 201h1v1h-1zM216 201h1v1h-1zM217 201h1v1h-1zM218 201h1v1h-1zM219 201h1v1h-1zM220 201h1v1h-1zM221 200h1v1h-1zM222 200h1v1h-1zM223 200h1v1h-1zM224 200h1v1h-1zM225 199h1v1h-1zM226 199h1v1h-1zM227 199h1v1h-1zM228 200h1v1h-1zM229 200h1v1h-1zM230 200h1v1h-1zM231 200h1v1h-1zM232 200h1v1h-1zM233 200h1v1h-1zM234 200h1v1h-1zM235 200h1v1h-1zM236 199h1v1h-1zM237 199h1v1h-1zM238 198h1v1h-1zM239 197h1v1h-1zM240 197h1v1h-1zM241 196h1v1h-1zM242 195h1v1h-1zM243 194h1v1h-1zM244 194h1v1h-1zM245 193h1v1h-1zM246 192h1v1h-1zM247 192h1v1h-1zM248 191h1v1h-1zM249 191h1v1h-1zM250 190h1v1h-1zM251 190h1v1h-1zM252 189h1v1h-1zM253 189h1v1h-1zM254 188h1v1h-1zM255 188h1v1h-1zM256 187h1v1h-1zM257 187h1v1h-1zM258 186h1v1h-1zM259 185h1v1h-1zM260 184h1v1h-1zM261 183h1v1h-1zM262 182h1v1h-1zM263 181h1v1h-1zM264 181h1v1h-1zM265 180h1v1h-1zM266 179h1v1h-1zM267 179h1v1h-1zM268 178h1v1h-1zM269 178h1v1h-1zM270 177h1v1h-1zM271 177h1v1h-1zM272 177h1v1h-1zM273 177h1v1h-1zM274 177h1v1h-1zM275 177h1v1h-1zM276 178h1v1h-1zM277 178h1v1h-1zM278 178h1v1h-1zM279 178h1v1h-1zM280 179h1v1h-1zM281 179h1v1h-1zM282 179h1v1h-1zM283 180h1v1h-1zM284 180h1v1h-1zM285 181h1v1h-1zM286 181h1v1h-1zM287 182h1v1h-1zM288 183h1v1h-1zM289 183h1v1h-1zM290 184h1v1h-1zM291 185h1v1h-1zM292 186h1v1h-1zM293 186h1v1h-1zM294 187h1v1h-1zM295 188h1v1h-1zM296 189h1v1h-1zM297 189h1v1h-1zM298 190h1v1h-1zM299 191h1v1h-1zM300 192h1v1h-1zM301 193h1v1h-1zM302 194h1v1h-1zM303 195h1v1h-1zM304 196h1v1h-1zM305 196h1v1h-1zM306 197h1v1h-1zM307 198h1v1h-1zM308 199h1v1h-1zM309 200h1v1h-1zM310 201h1v1h-1zM311 202h1v1h-1zM312 203h1v2h-1zM313 205h1v1h-1zM314 206h1v1h-1zM315 207h1v1h-1zM316 208h1v2h-1zM317 210h1v1h-1zM318 211h1v1h-1zM319 212h1v1h-1zM320 213h1v2h-1zM321 215h1v1h-1zM322 216h1v1h-1zM323 217h1v2h-1zM324 219h1v1h-1zM325 220h1v2h-1zM326 222h1v1h-1zM327 223h1v1h-1zM328 224h1v2h-1zM329 226h1v1h-1zM330 227h1v1h-1zM331 227h1v1h-1zM332 227h1v1h-1zM333 227h1v1h-1zM334 227h1v1h-1zM335 227h1v1h-1zM336 228h1v1h-1zM337 228h1v1h-1zM338 228h1v1h-1zM339 228h1v1h-1zM340 229h1v1h-1zM341 229h1v1h-1zM342 229h1v1h-1zM343 230h1v1h-1zM344 230h1v1h-1zM345 231h1v1h-1zM346 231h1v1h-1zM347 231h1v1h-1zM348 232h1v1h-1zM349 232h1v1h-1zM350 232h1v1h-1zM351 232h1v1h-1zM352 233h1v1h-1zM353 233h1v1h-1zM354 233h1v1h-1zM355 234h1v1h-1zM356 234h1v1h-1zM357 235h1v1h-1zM358 235h1v1h-1zM359 235h1v1h-1zM360 235h1v1h-1zM361 235h1v1h-1zM362 235h1v1h-1zM363 235h1v1h-1zM364 235h1v1h-1zM365 234h1v1h-1zM366 234h1v1h-1zM367 234h1v1h-1zM368 234h1v1h-1zM369 233h1v1h-1zM370 233h1v1h-1zM371 233h1v1h-1zM372 233h1v1h-1zM373 233h1v1h-1zM374 233h1v1h-1zM375 233h1v1h-1zM376 234h1v1h-1zM377 234h1v1h-1zM378 234h1v1h-1zM379 234h1v1h-1zM380 235h1v1h-1zM381 235h1v1h-1zM382 235h1v1h-1zM383 236h1v1h-1zM384 236h1v1h-1zM385 237h1v1h-1zM386 237h1v1h-1zM387 238h1v1h-1zM388 239h1v2h-1zM389 241h1v1h-1zM390 242h1v1h-1zM391 243h1v1h-1zM392 244h1v2h-1zM393 246h1v1h-1zM394 247h1v1h-1zM395 248h1v2h-1zM396 250h1v1h-1zM397 251h1v2h-1zM398 253h1v1h-1zM399 254h1v1h-1zM400 255h1v2h-1zM401 257h1v1h-1zM402 258h1v1h-1zM403 259h1v1h-1zM404 260h1v1h-1zM405 261h1v1h-1zM406 262h1v1h-1zM407 263h1v1h-1zM408 264h1v1h-1zM409 264h1v1h-1zM410 265h1v1h-1zM411 266h1v1h-1zM412 267h1v1h-1zM413 267h1v1h-1zM414 268h1v1h-1zM415 269h1v1h-1zM416 270h1v1h-1zM417 271h1v1h-1zM418 272h1v1h-1zM419 273h1v1h-1zM420 273h1v1h-1zM421 274h1v1h-1zM422 274h1v1h-1zM423 275h1v1h-1zM424 275h1v1h-1zM425 276h1v1h-1zM426 276h1v1h-1zM427 277h1v1h-1zM428 277h1v1h-1zM429 278h1v1h-1zM430 278h1v1h-1zM431 278h1v1h-1zM432 278h1v1h-1zM433 277h1v1h-1zM434 277h1v1h-1zM435 276h1v1h-1zM436 276h1v1h-1zM437 275h1v1h-1zM438 274h1v1h-1zM439 273h1v1h-1zM440 273h1v1h-1zM441 272h1v1h-1zM442 271h1v1h-1zM443 270h1v1h-1zM444 270h1v1h-1zM445 269h1v1h-1zM446 268h1v1h-1zM447 267h1v1h-1zM448 267h1v1h-1zM449 266h1v1h-1zM450 265h1v1h-1zM451 265h1v1h-1zM452 264h1v1h-1zM453 264h1v1h-1zM454 263h1v1h-1zM455 262h1v1h-1zM456 261h1v1h-1zM457 260h1v1h-1zM458 259h1v1h-1zM459 259h1v1h-1zM460 259h1v1h-1zM461 258h1v1h-1zM462 258h1v1h-1zM463 258h1v1h-1zM464 258h1v1h-1zM465 258h1v1h-1zM466 258h1v1h-1zM467 258h1v1h-1zM468 258h1v1h-1zM469 257h1v1h-1zM470 257h1v1h-1zM471 257h1v1h-1zM472 257h1v1h-1zM473 257h1v1h-1zM474 257h1v1h-1zM475 257h1v1h-1zM476 257h1v1h-1zM477 257h1v1h-1zM478 257h1v1h-1zM479 257h1v1h-1zM480 258h1v1h-1zM481 258h1v1h-1zM482 258h1v1h-1zM483 258h1v1h-1zM484 258h1v1h-1zM485 258h1v1h-1zM486 258h1v1h-1zM487 258h1v1h-1zM488 259h1v1h-1zM489 259h1v1h-1zM490 259h1v1h-1zM491 260h1v1h-1zM492 260h1v1h-1zM493 261h1v1h-1zM494 261h1v1h-1zM495 262h1v1h-1zM496 262h1v1h-1zM497 263h1v1h-1zM498 263h1v1h-1zM499 264h1v1h-1zM500 265h1v1h-1zM501 265h1v1h-1zM502 266h1v1h-1zM503 267h1v1h-1zM504 267h1v1h-1zM505 268h1v1h-1zM506 268h1v1h-1zM507 268h1v1h-1zM508 268h1v1h-1zM509 268h1v1h-1zM510 268h1v1h-1zM511 268h1v1h-1zM512 268h1v1h-1zM513 268h1v1h-1zM514 268h1v1h-1zM515 268h1v1h-1zM516 269h1v1h-1zM517 269h1v1h-1zM518 269h1v1h-1zM519 270h1v1h-1zM520 270h1v1h-1zM521 271h1v1h-1zM522 271h1v1h-1zM523 272h1v1h-1zM524 272h1v1h-1zM525 273h1v1h-1zM526 273h1v1h-1zM527 274h1v1h-1zM528 275h1v1h-1zM529 275h1v1h-1zM530 276h1v1h-1zM531 277h1v1h-1zM532 278h1v1h-1zM533 279h1v1h-1zM534 280h1v1h-1zM535 281h1v1h-1zM536 282h1v1h-1zM537 283h1v1h-1zM538 284h1v1h-1zM539 285h1v2h-1zM540 287h1v1h-1zM541 288h1v2h-1zM542 290h1v1h-1zM543 291h1v2h-1zM544 293h1v1h-1zM545 294h1v2h-1zM546 296h1v1h-1zM547 297h1v2h-1zM548 299h1v1h-1zM549 300h1v2h-1zM550 302h1v1h-1zM551 303h1v2h-1zM552 305h1v2h-1zM553 307h1v2h-1zM554 309h1v1h-1zM555 310h1v1h-1zM556 311h1v2h-1zM557 313h1v1h-1zM558 314h1v1h-1zM559 315h1v2h-1zM560 317h1v1h-1zM561 318h1v2h-1zM562 320h1v1h-1zM563 321h1v2h-1zM564 323h1v2h-1zM565 325h1v2h-1zM566 327h1v2h-1zM567 329h1v2h-1zM568 331h1v2h-1zM569 333h1v2h-1zM570 335h1v3h-1zM571 338h1v2h-1zM572 340h1v2h-1zM573 342h1v2h-1zM574 344h1v3h-1zM575 347h1v3h-1zM576 350h1v3h-1zM577 353h1v3h-1zM578 356h1v3h-1zM579 359h1v2h-1zM580 361h1v3h-1zM581 364h1v2h-1zM582 366h1v3h-1zM583 369h1v2h-1zM584 371h1v3h-1zM585 374h1v2h-1zM586 376h1v2h-1zM587 378h1v2h-1zM588 380h1v2h-1zM589 382h1v2h-1zM590 384h1v2h-1zM591 386h1v2h-1zM592 388h1v2h-1zM593 390h1v2h-1zM594 392h1v2h-1zM595 394h1v2h-1zM596 396h1v2h-1zM597 398h1v2h-1zM598 400h1v1h-1zM599 401h1v1h-1zM600 402h1v2h-1zM601 404h1v1h-1zM602 405h1v1h-1zM603 406h1v2h-1zM604 408h1v1h-1zM605 409h1v2h-1zM606 411h1v1h-1zM607 412h1v1h-1zM608 413h1v2h-1zM609 415h1v1h-1zM610 416h1v1h-1zM611 417h1v1h-1zM612 418h1v2h-1zM613 420h1v1h-1zM614 421h1v1h-1zM615 422h1v2h-1zM616 424h1v2h-1zM617 426h1v2h-1zM618 428h1v1h-1zM619 429h1v1h-1zM620 430h1v2h-1zM621 432h1v1h-1zM622 433h1v1h-1zM623 434h1v1h-1zM624 435h1v1h-1zM625 436h1v1h-1zM626 437h1v1h-1zM627 438h1v1h-1zM628 438h1v1h-1zM629 439h1v1h-1zM630 439h1v1h-1zM631 439h1v1h-1zM632 440h1v1h-1zM633 440h1v1h-1zM634 440h1v1h-1zM635 440h1v1h-1zM636 440h1v1h-1zM637 439h1v1h-1zM638 439h1v1h-1zM639 439h1v1h-1zM640 440h1v1h-1zM641 440h1v1h-1zM642 440h1v1h-1zM643 440h1v1h-1zM644 441h1v1h-1zM645 441h1v1h-1zM646 441h1v1h-1zM647 441h1v1h-1zM648 441h1v1h-1zM649 441h1v1h-1zM650 441h1v1h-1zM651 442h1v1h-1zM652 443h1v1h-1zM653 443h1v1h-1zM654 444h1v1h-1zM655 445h1v1h-1zM656 445h1v1h-1zM657 446h1v1h-1zM658 446h1v1h-1zM659 446h1v1h-1zM660 446h1v1h-1zM661 446h1v1h-1zM662 446h1v1h-1zM663 446h1v1h-1zM664 446h1v1h-1zM665 446h1v1h-1zM666 446h1v1h-1zM667 446h1v1h-1zM668 446h1v1h-1zM669 445h1v1h-1zM670 445h1v1h-1zM671 445h1v1h-1zM672 445h1v1h-1zM673 444h1v1h-1zM674 444h1v1h-1zM675 444h1v1h-1zM676 444h1v1h-1zM677 444h1v1h-1zM678 444h1v1h-1zM679 444h1v1h-1zM680 444h1v1h-1zM681 444h1v1h-1zM682 444h1v1h-1zM683 444h1v1h-1zM684 444h1v1h-1zM685 444h1v1h-1zM686 444h1v1h-1zM687 444h1v1h-1zM688 444h1v1h-1zM689 443h1v1h-1zM690 443h1v1h-1zM691 443h1v1h-1zM692 442h1v1h-1zM693 442h1v1h-1zM694 441h1v1h-1zM695 441h1v1h-1zM696 440h1v1h-1zM697 440h1v1h-1zM698 439h1v1h-1zM699 439h1v1h-1zM700 439h1v1h-1zM701 438h1v1h-1zM702 438h1v1h-1zM703 437h1v1h-1zM704 437h1v1h-1zM705 436h1v1h-1zM706 435h1v1h-1zM707 434h1v1h-1zM708 433h1v1h-1zM709 432h1v1h-1zM710 430h1v2h-1zM711 428h1v2h-1zM712 425h1v3h-1zM713 423h1v2h-1zM714 420h1v3h-1zM715 418h1v2h-1zM716 416h1v2h-1zM717 414h1v2h-1zM718 412h1v2h-1zM719 410h1v2h-1zM720 408h1v2h-1zM721 406h1v2h-1zM722 403h1v3h-1zM723 401h1v2h-1zM724 399h1v2h-1zM725 397h1v2h-1zM726 395h1v2h-1zM727 393h1v2h-1zM728 391h1v2h-1zM729 389h1v2h-1zM730 388h1v1h-1zM731 386h1v2h-1zM732 384h1v2h-1zM733 382h1v2h-1zM734 381h1v1h-1zM735 379h1v2h-1zM736 378h1v1h-1zM737 376h1v2h-1zM738 375h1v1h-1zM739 374h1v1h-1zM740 373h1v1h-1zM741 372h1v1h-1zM742 371h1v1h-1zM743 370h1v1h-1zM744 368h1v2h-1zM745 367h1v1h-1zM746 366h1v1h-1zM747 365h1v1h-1zM748 363h1v2h-1zM749 362h1v1h-1zM750 361h1v1h-1zM751 359h1v2h-1zM752 358h1v1h-1zM753 356h1v2h-1zM754 355h1v1h-1zM755 353h1v2h-1zM756 352h1v1h-1zM757 350h1v2h-1zM758 349h1v1h-1zM759 347h1v2h-1zM760 346h1v1h-1zM761 344h1v2h-1zM762 343h1v1h-1zM763 342h1v1h-1zM764 340h1v2h-1zM765 339h1v1h-1zM766 338h1v1h-1zM767 338h1v1h-1zM768 339h1v1h-1zM769 339h1v1h-1zM770 339h1v1h-1zM771 339h1v1h-1zM772 340h1v1h-1zM773 340h1v1h-1zM774 340h1v1h-1zM775 340h1v1h-1zM776 339h1v1h-1zM777 339h1v1h-1zM778 338h1v1h-1zM779 338h1v1h-1zM780 337h1v1h-1zM781 337h1v1h-1zM782 336h1v1h-1zM783 335h1v1h-1zM784 333h1v2h-1zM785 332h1v1h-1zM786 331h1v1h-1zM787 330h1v1h-1zM788 328h1v2h-1zM789 327h1v1h-1zM790 326h1v1h-1zM791 325h1v1h-1zM792 324h1v1h-1zM793 323h1v1h-1zM794 322h1v1h-1zM795 321h1v1h-1zM796 321h1v1h-1zM797 320h1v1h-1zM798 319h1v1h-1zM799 317h1v2h-1zM800 316h1v1h-1zM801 314h1v2h-1zM802 313h1v1h-1zM803 311h1v2h-1zM804 310h1v1h-1zM805 308h1v2h-1zM806 307h1v1h-1zM807 306h1v1h-1zM808 304h1v2h-1zM809 303h1v1h-1zM810 302h1v1h-1zM811 300h1v2h-1zM812 299h1v1h-1zM813 297h1v2h-1zM814 296h1v1h-1zM815 294h1v2h-1zM816 292h1v2h-1zM817 290h1v2h-1zM818 289h1v1h-1zM819 287h1v2h-1zM820 285h1v2h-1zM821 283h1v2h-1zM822 280h1v3h-1zM823 278h1v2h-1zM824 275h1v3h-1zM825 273h1v2h-1zM826 271h1v2h-1zM827 270h1v1h-1zM828 268h1v2h-1zM829 267h1v1h-1zM830 266h1v1h-1zM831 265h1v1h-1zM832 263h1v2h-1zM833 262h1v1h-1zM834 261h1v1h-1zM835 261h1v1h-1zM836 260h1v1h-1zM837 260h1v1h-1zM838 259h1v1h-1zM839 259h1v1h-1zM840 258h1v1h-1zM841 258h1v1h-1zM842 257h1v1h-1zM843 257h1v1h-1zM844 256h1v1h-1zM845 256h1v1h-1zM846 255h1v1h-1zM847 255h1v1h-1zM848 254h1v1h-1zM849 254h1v1h-1zM850 253h1v1h-1zM851 253h1v1h-1zM852 252h1v1h-1zM853 252h1v1h-1zM854 251h1v1h-1zM855 251h1v1h-1zM856 251h1v1h-1zM857 251h1v1h-1zM858 251h1v1h-1zM859 252h1v1h-1zM860 252h1v1h-1zM861 253h1v1h-1zM862 253h1v1h-1zM863 254h1v1h-1zM864 254h1v1h-1zM865 255h1v1h-1zM866 255h1v1h-1zM867 256h1v1h-1zM868 257h1v1h-1zM869 257h1v1h-1zM870 258h1v1h-1zM871 259h1v1h-1zM872 259h1v1h-1zM873 260h1v1h-1zM874 260h1v1h-1zM875 261h1v1h-1zM876 262h1v1h-1zM877 263h1v1h-1zM878 264h1v1h-1zM879 265h1v1h-1zM880 266h1v2h-1zM881 268h1v1h-1zM882 269h1v1h-1zM883 270h1v1h-1zM884 270h1v1h-1zM885 271h1v1h-1zM886 271h1v1h-1zM887 271h1v1h-1zM888 272h1v1h-1zM889 272h1v1h-1zM890 272h1v1h-1zM891 272h1v1h-1zM892 272h1v1h-1zM893 272h1v1h-1zM894 272h1v1h-1zM895 272h1v1h-1zM896 273h1v1h-1zM897 273h1v1h-1zM898 273h1v1h-1zM899 273h1v1h-1zM900 274h1v1h-1zM901 274h1v1h-1zM902 274h1v1h-1zM903 274h1v1h-1zM904 275h1v1h-1zM905 275h1v1h-1zM906 275h1v1h-1zM907 275h1v1h-1zM908 276h1v1h-1zM909 276h1v1h-1zM910 276h1v1h-1zM911 276h1v1h-1zM912 275h1v1h-1zM913 275h1v1h-1zM914 274h1v1h-1zM915 274h1v1h-1zM916 273h1v1h-1zM917 273h1v1h-1zM918 272h1v1h-1zM919 272h1v1h-1zM920 272h1v1h-1zM921 271h1v1h-1zM922 271h1v1h-1z"/>

<rect x="2" y="141" width="1163" height="2" fill="#ff0000"/><rect x="1" y="139" width="6" height="6" fill="#ff0000"/><rect x="3" y="141" width="2" height="2" fill="#fff"/><rect x="1158" y="139" width="6" height="6" fill="#ff0000"/><rect x="1160" y="141" width="2" height="2" fill="#fff"/>
<rect x="2" y="217" width="1163" height="2" fill="#ff0000"/><rect x="1" y="215" width="6" height="6" fill="#ff0000"/><rect x="3" y="217" width="2" height="2" fill="#fff"/><rect x="1158" y="215" width="6" height="6" fill="#ff0000"/><rect x="1160" y="217" width="2" height="2" fill="#fff"/>
<rect x="2" y="282" width="1163" height="2" fill="#00ff00"/><rect x="1" y="280" width="6" height="6" fill="#00ff00"/><rect x="3" y="282" width="2" height="2" fill="#fff"/><rect x="1158" y="280" width="6" height="6" fill="#00ff00"/><rect x="1160" y="282" width="2" height="2" fill="#fff"/>
<rect x="2" y="358" width="1163" height="2" fill="#0000ff"/>
<rect x="2" y="450" width="1163" height="2" fill="#0000ff"/>
<path fill="#32cd32" d="M30 102h1v3h-1zM38 95h1v28h-1zM46 107h1v19h-1zM50 115h1v29h-1zM54 137h1v36h-1zM58 166h1v13h-1zM66 165h1v17h-1zM74 156h1v50h-1zM82 178h1v8h-1zM90 173h1v23h-1zM98 173h1v40h-1zM118 118h1v35h-1zM122 144h1v19h-1zM134 140h1v38h-1zM138 159h1v29h-1zM142 180h1v23h-1zM146 181h1v22h-1zM158 191h1v44h-1zM166 195h1v29h-1zM178 168h1v28h-1zM182 182h1v25h-1zM186 196h1v33h-1zM194 184h1v23h-1zM202 182h1v19h-1zM206 191h1v53h-1zM210 225h1v26h-1zM226 176h1v34h-1zM238 141h1v53h-1zM250 143h1v34h-1zM254 156h1v27h-1zM262 152h1v29h-1zM266 175h1v7h-1zM270 176h1v16h-1zM274 181h1v23h-1zM278 194h1v27h-1zM290 203h1v14h-1zM294 211h1v20h-1zM306 192h1v30h-1zM310 199h1v45h-1zM322 227h1v25h-1zM326 240h1v25h-1zM330 259h1v38h-1zM342 194h1v34h-1zM346 208h1v31h-1zM354 217h1v28h-1zM362 210h1v17h-1zM370 213h1v37h-1zM374 214h1v27h-1zM378 221h1v38h-1zM382 254h1v33h-1zM386 282h1v17h-1zM394 284h1v20h-1zM402 286h1v50h-1zM410 279h1v12h-1zM430 236h1v25h-1zM446 229h1v41h-1zM450 245h1v18h-1zM454 257h1v12h-1zM462 248h1v36h-1zM474 233h1v23h-1zM478 241h1v28h-1zM482 267h1v7h-1zM490 235h1v34h-1zM494 255h1v25h-1zM502 261h1v26h-1zM518 225h1v75h-1zM530 280h1v16h-1zM534 287h1v42h-1zM538 315h1v12h-1zM542 315h1v26h-1zM546 338h1v30h-1zM550 351h1v23h-1zM554 361h1v10h-1zM558 353h1v21h-1zM566 352h1v27h-1zM570 364h1v42h-1zM574 399h1v28h-1zM582 425h1v19h-1zM598 397h1v48h-1zM602 426h1v8h-1zM606 422h1v26h-1zM610 443h1v27h-1zM618 419h1v38h-1zM626 439h1v12h-1zM634 443h1v21h-1zM642 420h1v34h-1zM650 439h1v8h-1zM654 439h1v13h-1zM658 447h1v26h-1zM670 424h1v24h-1zM674 440h1v7h-1zM678 434h1v18h-1zM690 427h1v22h-1zM702 409h1v18h-1zM710 397h1v16h-1zM722 306h1v10h-1zM726 289h1v47h-1zM730 321h1v20h-1zM734 335h1v44h-1zM742 345h1v27h-1zM766 303h1v42h-1zM770 340h1v17h-1zM790 262h1v36h-1zM794 290h1v13h-1zM826 174h1v26h-1zM830 195h1v80h-1zM842 252h1v6h-1zM846 249h1v25h-1zM854 244h1v20h-1zM858 244h1v66h-1zM882 262h1v32h-1zM890 258h1v7h-1zM898 250h1v27h-1zM902 265h1v24h-1zM910 271h1v12h-1zM37 95h3v14h-3zM45 107h3v9h-3zM49 115h3v29h-3zM53 142h3v27h-3zM57 168h3v10h-3zM65 165h3v9h-3zM73 169h3v33h-3zM81 179h3v2h-3zM89 180h3v15h-3zM97 184h3v16h-3zM117 119h3v28h-3zM121 146h3v8h-3zM133 144h3v25h-3zM137 169h3v17h-3zM141 185h3v9h-3zM145 193h3v10h-3zM157 192h3v18h-3zM165 199h3v13h-3zM177 168h3v14h-3zM181 182h3v19h-3zM185 200h3v26h-3zM193 186h3v11h-3zM201 184h3v11h-3zM205 195h3v41h-3zM209 235h3v4h-3zM225 189h3v17h-3zM237 167h3v14h-3zM249 156h3v1h-3zM253 157h3v17h-3zM261 155h3v25h-3zM265 179h3v3h-3zM269 186h3v2h-3zM273 187h3v13h-3zM277 199h3v16h-3zM289 205h3v2h-3zM293 213h3v17h-3zM305 196h3v4h-3zM309 199h3v44h-3zM321 240h3v7h-3zM325 246h3v14h-3zM329 259h3v20h-3zM341 195h3v30h-3zM345 224h3v14h-3zM353 235h3v8h-3zM361 213h3v9h-3zM369 221h3v9h-3zM373 230h3v1h-3zM377 230h3v28h-3zM381 257h3v29h-3zM385 285h3v12h-3zM393 287h3v17h-3zM401 293h3v16h-3zM409 279h3v8h-3zM429 241h3v14h-3zM445 235h3v22h-3zM449 256h3v2h-3zM453 257h3v11h-3zM461 257h3v23h-3zM473 240h3v15h-3zM477 254h3v15h-3zM481 268h3v6h-3zM489 262h3v6h-3zM493 268h3v11h-3zM501 269h3v16h-3zM517 255h3v36h-3zM529 285h3v9h-3zM533 290h3v33h-3zM537 322h3v2h-3zM541 323h3v17h-3zM545 339h3v24h-3zM549 362h3v2h-3zM553 363h3v5h-3zM557 366h3v4h-3zM565 353h3v22h-3zM569 374h3v28h-3zM573 401h3v22h-3zM581 426h3v17h-3zM597 419h3v12h-3zM601 430h3v3h-3zM605 429h3v18h-3zM609 446h3v6h-3zM617 440h3v16h-3zM625 447h3v4h-3zM633 443h3v5h-3zM641 432h3v15h-3zM649 441h3v4h-3zM653 445h3v4h-3zM657 448h3v15h-3zM669 430h3v12h-3zM673 441h3v5h-3zM677 445h3v7h-3zM689 435h3v4h-3zM701 414h3v11h-3zM709 397h3v15h-3zM721 307h3v6h-3zM725 304h3v30h-3zM729 333h3v3h-3zM733 335h3v31h-3zM741 345h3v18h-3zM765 320h3v24h-3zM769 342h3v12h-3zM789 270h3v23h-3zM793 292h3v10h-3zM825 187h3v12h-3zM829 198h3v71h-3zM841 252h3v4h-3zM845 257h3v12h-3zM853 253h3v7h-3zM857 259h3v49h-3zM881 264h3v26h-3zM889 259h3v3h-3zM897 256h3v16h-3zM901 271h3v8h-3zM909 276h3v4h-3z"/>
<path fill="#ff0000" d="M34 102h1v1h-1zM42 102h1v14h-1zM62 157h1v27h-1zM70 159h1v23h-1zM78 172h1v32h-1zM86 179h1v22h-1zM94 183h1v30h-1zM102 176h1v28h-1zM106 170h1v11h-1zM110 110h1v65h-1zM114 118h1v44h-1zM126 152h1v13h-1zM130 140h1v25h-1zM150 190h1v32h-1zM154 170h1v28h-1zM162 195h1v28h-1zM170 191h1v23h-1zM174 156h1v58h-1zM190 183h1v54h-1zM198 169h1v30h-1zM214 199h1v40h-1zM218 192h1v15h-1zM222 188h1v25h-1zM230 161h1v53h-1zM234 138h1v52h-1zM242 161h1v22h-1zM246 154h1v31h-1zM258 153h1v29h-1zM282 203h1v20h-1zM286 183h1v32h-1zM298 208h1v35h-1zM302 190h1v27h-1zM314 234h1v15h-1zM318 225h1v29h-1zM334 213h1v67h-1zM338 196h1v30h-1zM350 223h1v26h-1zM358 193h1v63h-1zM366 207h1v31h-1zM390 279h1v28h-1zM398 287h1v22h-1zM406 265h1v49h-1zM414 269h1v26h-1zM418 247h1v35h-1zM422 242h1v32h-1zM426 235h1v33h-1zM434 242h1v14h-1zM438 235h1v20h-1zM442 227h1v27h-1zM458 256h1v8h-1zM466 255h1v25h-1zM470 232h1v38h-1zM486 256h1v18h-1zM498 261h1v32h-1zM506 280h1v7h-1zM510 270h1v26h-1zM514 250h1v43h-1zM522 270h1v25h-1zM526 279h1v17h-1zM562 341h1v32h-1zM578 414h1v9h-1zM586 426h1v19h-1zM590 424h1v34h-1zM594 414h1v24h-1zM614 427h1v29h-1zM622 438h1v27h-1zM630 442h1v14h-1zM638 427h1v32h-1zM646 429h1v23h-1zM662 440h1v23h-1zM666 429h1v35h-1zM682 436h1v18h-1zM686 429h1v24h-1zM694 412h1v33h-1zM698 407h1v8h-1zM706 397h1v29h-1zM714 338h1v78h-1zM718 291h1v55h-1zM738 344h1v24h-1zM746 356h1v8h-1zM750 342h1v24h-1zM754 322h1v30h-1zM758 313h1v27h-1zM762 311h1v25h-1zM774 333h1v18h-1zM778 286h1v74h-1zM782 276h1v38h-1zM786 249h1v55h-1zM798 278h1v27h-1zM802 269h1v38h-1zM806 274h1v39h-1zM810 251h1v36h-1zM814 240h1v21h-1zM818 243h1v12h-1zM822 166h1v75h-1zM834 248h1v25h-1zM838 243h1v21h-1zM850 247h1v23h-1zM862 288h1v26h-1zM866 287h1v12h-1zM870 282h1v21h-1zM874 255h1v34h-1zM878 260h1v19h-1zM886 253h1v37h-1zM894 250h1v23h-1zM906 273h1v16h-1zM914 275h1v7h-1zM918 252h1v28h-1zM922 253h1v6h-1zM33 102h3v1h-3zM41 107h3v2h-3zM61 165h3v12h-3zM69 169h3v4h-3zM77 179h3v23h-3zM85 180h3v10h-3zM93 184h3v11h-3zM101 179h3v21h-3zM105 174h3v6h-3zM109 142h3v32h-3zM113 120h3v22h-3zM125 153h3v1h-3zM129 144h3v7h-3zM149 193h3v4h-3zM153 193h3v1h-3zM161 199h3v11h-3zM169 203h3v9h-3zM173 168h3v43h-3zM189 186h3v40h-3zM197 184h3v13h-3zM213 201h3v38h-3zM217 197h3v6h-3zM221 189h3v11h-3zM229 179h3v27h-3zM233 167h3v14h-3zM241 168h3v12h-3zM245 156h3v18h-3zM257 154h3v20h-3zM281 213h3v2h-3zM285 205h3v9h-3zM297 216h3v14h-3zM301 197h3v19h-3zM313 237h3v6h-3zM317 240h3v2h-3zM333 223h3v56h-3zM337 204h3v20h-3zM349 235h3v3h-3zM357 213h3v30h-3zM365 221h3v7h-3zM389 287h3v5h-3zM397 293h3v11h-3zM405 279h3v31h-3zM413 273h3v2h-3zM417 265h3v9h-3zM421 264h3v2h-3zM425 241h3v23h-3zM433 248h3v7h-3zM437 248h3v6h-3zM441 235h3v14h-3zM457 257h3v4h-3zM465 268h3v12h-3zM469 240h3v29h-3zM485 262h3v10h-3zM497 268h3v11h-3zM505 283h3v2h-3zM509 270h3v9h-3zM513 255h3v16h-3zM521 287h3v4h-3zM525 285h3v3h-3zM561 353h3v17h-3zM577 421h3v2h-3zM585 439h3v4h-3zM589 435h3v5h-3zM593 418h3v18h-3zM613 440h3v12h-3zM621 447h3v10h-3zM629 443h3v3h-3zM637 432h3v17h-3zM645 441h3v6h-3zM661 456h3v7h-3zM665 430h3v27h-3zM681 436h3v15h-3zM685 436h3v1h-3zM693 413h3v26h-3zM697 411h3v3h-3zM705 397h3v28h-3zM713 339h3v73h-3zM717 307h3v33h-3zM737 345h3v21h-3zM745 357h3v6h-3zM749 350h3v12h-3zM753 330h3v21h-3zM757 320h3v11h-3zM761 320h3v1h-3zM773 348h3v2h-3zM777 297h3v52h-3zM781 281h3v17h-3zM785 270h3v12h-3zM797 301h3v2h-3zM801 280h3v22h-3zM805 275h3v6h-3zM809 253h3v23h-3zM813 251h3v2h-3zM817 243h3v8h-3zM821 187h3v52h-3zM833 253h3v16h-3zM837 252h3v2h-3zM849 252h3v17h-3zM861 297h3v10h-3zM865 292h3v6h-3zM869 282h3v14h-3zM873 264h3v20h-3zM877 264h3v3h-3zM885 260h3v30h-3zM893 256h3v1h-3zM905 275h3v4h-3zM913 277h3v3h-3zM917 257h3v22h-3zM921 257h3v1h-3z"/>
<path fill="#ff4500" d="M62 166h1v10h-1zM70 170h1v2h-1zM78 180h1v21h-1zM86 181h1v8h-1zM94 185h1v9h-1zM102 180h1v19h-1zM106 175h1v4h-1zM110 143h1v30h-1zM114 121h1v20h-1zM130 145h1v5h-1zM150 194h1v2h-1zM162 200h1v9h-1zM170 204h1v7h-1zM174 169h1v41h-1zM190 187h1v38h-1zM198 185h1v11h-1zM214 202h1v36h-1zM218 198h1v4h-1zM222 190h1v9h-1zM230 180h1v25h-1zM234 168h1v12h-1zM242 169h1v10h-1zM246 157h1v16h-1zM258 155h1v18h-1zM286 206h1v7h-1zM298 217h1v12h-1zM302 198h1v17h-1zM314 238h1v4h-1zM334 224h1v54h-1zM338 205h1v18h-1zM350 236h1v1h-1zM358 214h1v28h-1zM366 222h1v5h-1zM390 288h1v3h-1zM398 294h1v9h-1zM406 280h1v29h-1zM418 266h1v7h-1zM426 242h1v21h-1zM434 249h1v5h-1zM438 249h1v4h-1zM442 236h1v12h-1zM458 258h1v2h-1zM466 269h1v10h-1zM470 241h1v27h-1zM486 263h1v8h-1zM498 269h1v9h-1zM510 271h1v7h-1zM514 256h1v14h-1zM522 288h1v2h-1zM526 286h1v1h-1zM562 354h1v15h-1zM586 440h1v2h-1zM590 436h1v3h-1zM594 419h1v16h-1zM614 441h1v10h-1zM622 448h1v8h-1zM630 444h1v1h-1zM638 433h1v15h-1zM646 442h1v4h-1zM662 457h1v5h-1zM666 431h1v25h-1zM682 437h1v13h-1zM694 414h1v24h-1zM698 412h1v1h-1zM706 398h1v26h-1zM714 340h1v71h-1zM718 308h1v31h-1zM738 346h1v19h-1zM746 358h1v4h-1zM750 351h1v10h-1zM754 331h1v19h-1zM758 321h1v9h-1zM778 298h1v50h-1zM782 282h1v15h-1zM786 271h1v10h-1zM802 281h1v20h-1zM806 276h1v4h-1zM810 254h1v21h-1zM818 244h1v6h-1zM822 188h1v50h-1zM834 254h1v14h-1zM850 253h1v15h-1zM862 298h1v8h-1zM866 293h1v4h-1zM870 283h1v12h-1zM874 265h1v18h-1zM878 265h1v1h-1zM886 261h1v28h-1zM906 276h1v2h-1zM914 278h1v1h-1zM918 258h1v20h-1z"/>

<rect x="2" y="46" width="1" height="35" fill="#ff0000"/><rect x="2" y="62" width="1" height="5" fill="#ff4500"/>
</g>
<path fill="#c0c0c0" d="M1 527h3v11h-3zM5 527h3v11h-3zM9 527h3v11h-3zM13 527h3v11h-3zM17 527h3v11h-3zM21 527h3v12h-3zM25 527h3v13h-3zM29 527h3v14h-3zM33 527h3v15h-3zM37 527h3v16h-3zM41 527h3v17h-3zM45 527h3v18h-3zM49 527h3v20h-3zM53 527h3v23h-3zM57 527h3v26h-3zM61 527h3v28h-3zM65 527h3v29h-3zM69 527h3v31h-3zM73 527h3v32h-3zM77 527h3v32h-3zM81 527h3v31h-3zM85 527h3v30h-3zM89 527h3v30h-3zM93 527h3v30h-3zM97 527h3v29h-3zM101 527h3v28h-3zM105 527h3v27h-3zM109 527h3v20h-3zM113 527h3v16h-3zM117 527h3v14h-3zM121 527h3v12h-3zM125 527h3v10h-3zM129 527h3v10h-3zM133 527h3v10h-3zM137 527h3v11h-3zM141 527h3v13h-3zM145 527h3v14h-3zM149 527h3v15h-3zM153 527h3v16h-3zM157 527h3v16h-3zM161 527h3v17h-3zM165 527h3v17h-3zM169 527h3v16h-3zM173 527h3v15h-3zM177 527h3v14h-3zM181 527h3v14h-3zM185 527h3v13h-3zM189 527h3v13h-3zM193 527h3v13h-3zM197 527h3v12h-3zM201 527h3v12h-3zM205 527h3v12h-3zM209 527h3v13h-3zM213 527h3v13h-3zM217 527h3v12h-3zM221 527h3v10h-3zM225 527h3v9h-3zM229 527h3v6h-3zM233 527h3v4h-3zM237 527h3v2h-3zM241 527h3v1h-3zM245 525h3v2h-3zM249 524h3v3h-3zM253 523h3v4h-3zM257 522h3v5h-3zM261 523h3v4h-3zM265 524h3v3h-3zM269 525h3v2h-3zM273 527h3v1h-3zM277 527h3v2h-3zM281 527h3v4h-3zM285 527h3v5h-3zM289 527h3v6h-3zM293 527h3v7h-3zM297 527h3v7h-3zM301 527h3v7h-3zM305 527h3v8h-3zM309 527h3v9h-3zM313 527h3v10h-3zM317 527h3v12h-3zM321 527h3v13h-3zM325 527h3v15h-3zM329 527h3v17h-3zM333 527h3v16h-3zM337 527h3v13h-3zM341 527h3v12h-3zM345 527h3v11h-3zM349 527h3v10h-3zM353 527h3v9h-3zM357 527h3v8h-3zM361 527h3v8h-3zM365 527h3v7h-3zM369 527h3v6h-3zM373 527h3v6h-3zM377 527h3v7h-3zM381 527h3v11h-3zM385 527h3v15h-3zM389 527h3v17h-3zM393 527h3v19h-3zM397 527h3v20h-3zM401 527h3v20h-3zM405 527h3v20h-3zM409 527h3v19h-3zM413 527h3v18h-3zM417 527h3v17h-3zM421 527h3v15h-3zM425 527h3v10h-3zM429 527h3v8h-3zM433 527h3v6h-3zM437 527h3v4h-3zM441 527h3v2h-3zM445 527h3v2h-3zM449 527h3v2h-3zM453 527h3v2h-3zM457 527h3v2h-3zM461 527h3v2h-3zM465 527h3v2h-3zM469 527h3v2h-3zM473 527h3v2h-3zM477 527h3v2h-3zM481 527h3v2h-3zM485 527h3v2h-3zM489 527h3v3h-3zM493 527h3v4h-3zM497 527h3v4h-3zM501 527h3v5h-3zM505 527h3v5h-3zM509 527h3v5h-3zM513 527h3v5h-3zM517 527h3v5h-3zM521 527h3v6h-3zM525 527h3v6h-3zM529 527h3v8h-3zM533 527h3v9h-3zM537 527h3v11h-3zM541 527h3v15h-3zM545 527h3v17h-3zM549 527h3v20h-3zM553 527h3v24h-3zM557 527h3v24h-3zM561 527h3v25h-3zM565 527h3v27h-3zM569 527h3v29h-3zM573 527h3v32h-3zM577 527h3v34h-3zM581 527h3v36h-3zM585 527h3v38h-3zM589 527h3v39h-3zM593 527h3v38h-3zM597 527h3v36h-3zM601 527h3v36h-3zM605 527h3v36h-3zM609 527h3v36h-3zM613 527h3v35h-3zM617 527h3v34h-3zM621 527h3v33h-3zM625 527h3v32h-3zM629 527h3v30h-3zM633 527h3v29h-3zM637 527h3v27h-3zM641 527h3v25h-3zM645 527h3v24h-3zM649 527h3v23h-3zM653 527h3v22h-3zM657 527h3v21h-3zM661 527h3v19h-3zM665 527h3v18h-3zM669 527h3v17h-3zM673 527h3v16h-3zM677 527h3v14h-3zM681 527h3v13h-3zM685 527h3v12h-3zM689 527h3v10h-3zM693 527h3v8h-3zM697 527h3v6h-3zM701 527h3v4h-3zM705 527h3v2h-3zM709 527h3v1h-3zM713 520h3v7h-3zM717 513h3v14h-3zM721 508h3v19h-3zM725 506h3v21h-3zM729 504h3v23h-3zM733 506h3v21h-3zM737 506h3v21h-3zM741 507h3v20h-3zM745 508h3v19h-3zM749 508h3v19h-3zM753 508h3v19h-3zM757 506h3v21h-3zM761 505h3v22h-3zM765 507h3v20h-3zM769 509h3v18h-3zM773 510h3v17h-3zM777 509h3v18h-3zM781 505h3v22h-3zM785 502h3v25h-3zM789 502h3v25h-3zM793 502h3v25h-3zM797 503h3v24h-3zM801 502h3v25h-3zM805 501h3v26h-3zM809 500h3v27h-3zM813 499h3v28h-3zM817 497h3v30h-3zM821 493h3v34h-3zM825 491h3v36h-3zM829 495h3v32h-3zM833 496h3v31h-3zM837 498h3v29h-3zM841 501h3v26h-3zM845 504h3v23h-3zM849 505h3v22h-3zM853 507h3v20h-3zM857 511h3v16h-3zM861 516h3v11h-3zM865 517h3v10h-3zM869 518h3v9h-3zM873 518h3v9h-3zM877 518h3v9h-3zM881 520h3v7h-3zM885 519h3v8h-3zM889 519h3v8h-3zM893 519h3v8h-3zM897 519h3v8h-3zM901 520h3v7h-3zM905 521h3v6h-3zM909 522h3v5h-3zM913 522h3v5h-3zM917 522h3v5h-3zM921 522h3v5h-3z"/>
<path fill="#ff0000" d="M2 540h1v1h-1zM3 540h1v1h-1zM4 540h1v1h-1zM5 539h1v1h-1zM6 539h1v1h-1zM7 539h1v1h-1zM8 539h1v1h-1zM9 538h1v1h-1zM10 538h1v1h-1zM11 538h1v1h-1zM12 538h1v1h-1zM13 537h1v1h-1zM14 537h1v1h-1zM15 537h1v1h-1zM16 537h1v1h-1zM17 537h1v1h-1zM18 537h1v1h-1zM19 537h1v1h-1zM20 537h1v1h-1zM21 537h1v1h-1zM22 537h1v1h-1zM23 537h1v1h-1zM24 537h1v1h-1zM25 537h1v1h-1zM26 537h1v1h-1zM27 537h1v1h-1zM28 537h1v1h-1zM29 537h1v1h-1zM30 537h1v1h-1zM31 537h1v1h-1zM32 538h1v1h-1zM33 538h1v1h-1zM34 538h1v1h-1zM35 538h1v1h-1zM36 539h1v1h-1zM37 539h1v1h-1zM38 539h1v1h-1zM39 539h1v1h-1zM40 540h1v1h-1zM41 540h1v1h-1zM42 540h1v1h-1zM43 540h1v1h-1zM44 541h1v1h-1zM45 541h1v1h-1zM46 541h1v1h-1zM47 542h1v1h-1zM48 542h1v1h-1zM49 543h1v1h-1zM50 543h1v1h-1zM51 543h1v1h-1zM52 544h1v1h-1zM53 544h1v1h-1zM54 544h1v1h-1zM55 545h1v1h-1zM56 545h1v1h-1zM57 546h1v1h-1zM58 546h1v1h-1zM59 546h1v1h-1zM60 547h1v1h-1zM61 547h1v1h-1zM62 547h1v1h-1zM63 548h1v1h-1zM64 548h1v1h-1zM65 549h1v1h-1zM66 549h1v1h-1zM67 549h1v1h-1zM68 550h1v1h-1zM69 550h1v1h-1zM70 550h1v1h-1zM71 551h1v1h-1zM72 551h1v1h-1zM73 552h1v1h-1zM74 552h1v1h-1zM75 552h1v1h-1zM76 553h1v1h-1zM77 553h1v1h-1zM78 553h1v1h-1zM79 554h1v1h-1zM80 554h1v1h-1zM81 555h1v1h-1zM82 555h1v1h-1zM83 556h1v1h-1zM84 556h1v1h-1zM85 557h1v1h-1zM86 557h1v1h-1zM87 557h1v1h-1zM88 557h1v1h-1zM89 557h1v1h-1zM90 557h1v1h-1zM91 557h1v1h-1zM92 557h1v1h-1zM93 557h1v1h-1zM94 557h1v1h-1zM95 557h1v1h-1zM96 557h1v1h-1zM97 557h1v1h-1zM98 557h1v1h-1zM99 557h1v1h-1zM100 557h1v1h-1zM101 557h1v1h-1zM102 557h1v1h-1zM103 557h1v1h-1zM104 557h1v1h-1zM105 557h1v1h-1zM106 557h1v1h-1zM107 557h1v1h-1zM108 556h1v1h-1zM109 556h1v1h-1zM110 555h1v1h-1zM111 555h1v1h-1zM112 554h1v1h-1zM113 554h1v1h-1zM114 553h1v1h-1zM115 553h1v1h-1zM116 552h1v1h-1zM117 552h1v1h-1zM118 551h1v1h-1zM119 551h1v1h-1zM120 550h1v1h-1zM121 550h1v1h-1zM122 549h1v1h-1zM123 549h1v1h-1zM124 548h1v1h-1zM125 548h1v1h-1zM126 547h1v1h-1zM127 547h1v1h-1zM128 546h1v1h-1zM129 546h1v1h-1zM130 545h1v1h-1zM131 545h1v1h-1zM132 544h1v1h-1zM133 544h1v1h-1zM134 543h1v1h-1zM135 542h1v1h-1zM136 542h1v1h-1zM137 541h1v1h-1zM138 540h1v1h-1zM139 540h1v1h-1zM140 540h1v1h-1zM141 539h1v1h-1zM142 539h1v1h-1zM143 539h1v1h-1zM144 539h1v1h-1zM145 539h1v1h-1zM146 539h1v1h-1zM147 539h1v1h-1zM148 539h1v1h-1zM149 539h1v1h-1zM150 539h1v1h-1zM151 539h1v1h-1zM152 539h1v1h-1zM153 539h1v1h-1zM154 539h1v1h-1zM155 539h1v1h-1zM156 539h1v1h-1zM157 539h1v1h-1zM158 539h1v1h-1zM159 539h1v1h-1zM160 539h1v1h-1zM161 539h1v1h-1zM162 539h1v1h-1zM163 539h1v1h-1zM164 540h1v1h-1zM165 540h1v1h-1zM166 540h1v1h-1zM167 540h1v1h-1zM168 541h1v1h-1zM169 541h1v1h-1zM170 541h1v1h-1zM171 541h1v1h-1zM172 542h1v1h-1zM173 542h1v1h-1zM174 542h1v1h-1zM175 542h1v1h-1zM176 542h1v1h-1zM177 542h1v1h-1zM178 542h1v1h-1zM179 542h1v1h-1zM180 542h1v1h-1zM181 541h1v1h-1zM182 541h1v1h-1zM183 541h1v1h-1zM184 541h1v1h-1zM185 541h1v1h-1zM186 541h1v1h-1zM187 541h1v1h-1zM188 541h1v1h-1zM189 541h1v1h-1zM190 541h1v1h-1zM191 541h1v1h-1zM192 541h1v1h-1zM193 540h1v1h-1zM194 540h1v1h-1zM195 540h1v1h-1zM196 540h1v1h-1zM197 540h1v1h-1zM198 540h1v1h-1zM199 540h1v1h-1zM200 540h1v1h-1zM201 539h1v1h-1zM202 539h1v1h-1zM203 539h1v1h-1zM204 539h1v1h-1zM205 539h1v1h-1zM206 539h1v1h-1zM207 539h1v1h-1zM208 539h1v1h-1zM209 539h1v1h-1zM210 539h1v1h-1zM211 539h1v1h-1zM212 539h1v1h-1zM213 538h1v1h-1zM214 538h1v1h-1zM215 538h1v1h-1zM216 538h1v1h-1zM217 538h1v1h-1zM218 538h1v1h-1zM219 538h1v1h-1zM220 538h1v1h-1zM221 538h1v1h-1zM222 538h1v1h-1zM223 538h1v1h-1zM224 538h1v1h-1zM225 537h1v1h-1zM226 537h1v1h-1zM227 537h1v1h-1zM228 537h1v1h-1zM229 537h1v1h-1zM230 537h1v1h-1zM231 537h1v1h-1zM232 537h1v1h-1zM233 536h1v1h-1zM234 536h1v1h-1zM235 536h1v1h-1zM236 536h1v1h-1zM237 535h1v1h-1zM238 535h1v1h-1zM239 535h1v1h-1zM240 534h1v1h-1zM241 534h1v1h-1zM242 533h1v1h-1zM243 533h1v1h-1zM244 533h1v1h-1zM245 532h1v1h-1zM246 532h1v1h-1zM247 532h1v1h-1zM248 531h1v1h-1zM249 531h1v1h-1zM250 530h1v1h-1zM251 530h1v1h-1zM252 530h1v1h-1zM253 529h1v1h-1zM254 529h1v1h-1zM255 529h1v1h-1zM256 528h1v1h-1zM257 528h1v1h-1zM258 527h1v1h-1zM259 527h1v1h-1zM260 527h1v1h-1zM261 526h1v1h-1zM262 526h1v1h-1zM263 526h1v1h-1zM264 526h1v1h-1zM265 525h1v1h-1zM266 525h1v1h-1zM267 525h1v1h-1zM268 525h1v1h-1zM269 524h1v1h-1zM270 524h1v1h-1zM271 524h1v1h-1zM272 524h1v1h-1zM273 524h1v1h-1zM274 524h1v1h-1zM275 524h1v1h-1zM276 524h1v1h-1zM277 524h1v1h-1zM278 524h1v1h-1zM279 524h1v1h-1zM280 524h1v1h-1zM281 524h1v1h-1zM282 524h1v1h-1zM283 524h1v1h-1zM284 525h1v1h-1zM285 525h1v1h-1zM286 525h1v1h-1zM287 525h1v1h-1zM288 526h1v1h-1zM289 526h1v1h-1zM290 526h1v1h-1zM291 527h1v1h-1zM292 527h1v1h-1zM293 528h1v1h-1zM294 528h1v1h-1zM295 528h1v1h-1zM296 529h1v1h-1zM297 529h1v1h-1zM298 529h1v1h-1zM299 529h1v1h-1zM300 530h1v1h-1zM301 530h1v1h-1zM302 530h1v1h-1zM303 530h1v1h-1zM304 531h1v1h-1zM305 531h1v1h-1zM306 531h1v1h-1zM307 531h1v1h-1zM308 532h1v1h-1zM309 532h1v1h-1zM310 532h1v1h-1zM311 532h1v1h-1zM312 533h1v1h-1zM313 533h1v1h-1zM314 533h1v1h-1zM315 533h1v1h-1zM316 534h1v1h-1zM317 534h1v1h-1zM318 534h1v1h-1zM319 534h1v1h-1zM320 535h1v1h-1zM321 535h1v1h-1zM322 535h1v1h-1zM323 535h1v1h-1zM324 536h1v1h-1zM325 536h1v1h-1zM326 536h1v1h-1zM327 536h1v1h-1zM328 537h1v1h-1zM329 537h1v1h-1zM330 537h1v1h-1zM331 537h1v1h-1zM332 538h1v1h-1zM333 538h1v1h-1zM334 538h1v1h-1zM335 538h1v1h-1zM336 539h1v1h-1zM337 539h1v1h-1zM338 539h1v1h-1zM339 539h1v1h-1zM340 539h1v1h-1zM341 539h1v1h-1zM342 539h1v1h-1zM343 539h1v1h-1zM344 539h1v1h-1zM345 539h1v1h-1zM346 539h1v1h-1zM347 539h1v1h-1zM348 539h1v1h-1zM349 539h1v1h-1zM350 539h1v1h-1zM351 539h1v1h-1zM352 539h1v1h-1zM353 539h1v1h-1zM354 539h1v1h-1zM355 539h1v1h-1zM356 539h1v1h-1zM357 539h1v1h-1zM358 539h1v1h-1zM359 539h1v1h-1zM360 539h1v1h-1zM361 538h1v1h-1zM362 538h1v1h-1zM363 538h1v1h-1zM364 538h1v1h-1zM365 537h1v1h-1zM366 537h1v1h-1zM367 537h1v1h-1zM368 537h1v1h-1zM369 536h1v1h-1zM370 536h1v1h-1zM371 536h1v1h-1zM372 536h1v1h-1zM373 535h1v1h-1zM374 535h1v1h-1zM375 535h1v1h-1zM376 535h1v1h-1zM377 534h1v1h-1zM378 534h1v1h-1zM379 534h1v1h-1zM380 534h1v1h-1zM381 534h1v1h-1zM382 534h1v1h-1zM383 534h1v1h-1zM384 535h1v1h-1zM385 535h1v1h-1zM386 535h1v1h-1zM387 535h1v1h-1zM388 535h1v1h-1zM389 535h1v1h-1zM390 535h1v1h-1zM391 536h1v1h-1zM392 536h1v1h-1zM393 537h1v1h-1zM394 537h1v1h-1zM395 538h1v1h-1zM396 538h1v1h-1zM397 539h1v1h-1zM398 539h1v1h-1zM399 540h1v1h-1zM400 540h1v1h-1zM401 541h1v1h-1zM402 541h1v1h-1zM403 541h1v1h-1zM404 542h1v1h-1zM405 542h1v1h-1zM406 542h1v1h-1zM407 542h1v1h-1zM408 543h1v1h-1zM409 543h1v1h-1zM410 543h1v1h-1zM411 543h1v1h-1zM412 544h1v1h-1zM413 544h1v1h-1zM414 544h1v1h-1zM415 544h1v1h-1zM416 544h1v1h-1zM417 544h1v1h-1zM418 544h1v1h-1zM419 544h1v1h-1zM420 544h1v1h-1zM421 544h1v1h-1zM422 544h1v1h-1zM423 544h1v1h-1zM424 544h1v1h-1zM425 543h1v1h-1zM426 543h1v1h-1zM427 543h1v1h-1zM428 543h1v1h-1zM429 542h1v1h-1zM430 542h1v1h-1zM431 542h1v1h-1zM432 541h1v1h-1zM433 541h1v1h-1zM434 540h1v1h-1zM435 540h1v1h-1zM436 539h1v1h-1zM437 539h1v1h-1zM438 538h1v1h-1zM439 538h1v1h-1zM440 538h1v1h-1zM441 537h1v1h-1zM442 537h1v1h-1zM443 537h1v1h-1zM444 536h1v1h-1zM445 536h1v1h-1zM446 535h1v1h-1zM447 535h1v1h-1zM448 535h1v1h-1zM449 534h1v1h-1zM450 534h1v1h-1zM451 534h1v1h-1zM452 533h1v1h-1zM453 533h1v1h-1zM454 532h1v1h-1zM455 532h1v1h-1zM456 532h1v1h-1zM457 531h1v1h-1zM458 531h1v1h-1zM459 531h1v1h-1zM460 531h1v1h-1zM461 530h1v1h-1zM462 530h1v1h-1zM463 530h1v1h-1zM464 530h1v1h-1zM465 530h1v1h-1zM466 530h1v1h-1zM467 530h1v1h-1zM468 530h1v1h-1zM469 529h1v1h-1zM470 529h1v1h-1zM471 529h1v1h-1zM472 529h1v1h-1zM473 529h1v1h-1zM474 529h1v1h-1zM475 529h1v1h-1zM476 529h1v1h-1zM477 529h1v1h-1zM478 529h1v1h-1zM479 529h1v1h-1zM480 529h1v1h-1zM481 529h1v1h-1zM482 529h1v1h-1zM483 529h1v1h-1zM484 529h1v1h-1zM485 529h1v1h-1zM486 529h1v1h-1zM487 529h1v1h-1zM488 529h1v1h-1zM489 529h1v1h-1zM490 529h1v1h-1zM491 529h1v1h-1zM492 530h1v1h-1zM493 530h1v1h-1zM494 530h1v1h-1zM495 530h1v1h-1zM496 530h1v1h-1zM497 530h1v1h-1zM498 530h1v1h-1zM499 530h1v1h-1zM500 530h1v1h-1zM501 530h1v1h-1zM502 530h1v1h-1zM503 530h1v1h-1zM504 530h1v1h-1zM505 530h1v1h-1zM506 530h1v1h-1zM507 530h1v1h-1zM508 530h1v1h-1zM509 530h1v1h-1zM510 530h1v1h-1zM511 530h1v1h-1zM512 530h1v1h-1zM513 530h1v1h-1zM514 530h1v1h-1zM515 530h1v1h-1zM516 531h1v1h-1zM517 531h1v1h-1zM518 531h1v1h-1zM519 531h1v1h-1zM520 531h1v1h-1zM521 531h1v1h-1zM522 531h1v1h-1zM523 531h1v1h-1zM524 532h1v1h-1zM525 532h1v1h-1zM526 532h1v1h-1zM527 532h1v1h-1zM528 532h1v1h-1zM529 532h1v1h-1zM530 532h1v1h-1zM531 532h1v1h-1zM532 533h1v1h-1zM533 533h1v1h-1zM534 533h1v1h-1zM535 533h1v1h-1zM536 533h1v1h-1zM537 533h1v1h-1zM538 533h1v1h-1zM539 533h1v1h-1zM540 534h1v1h-1zM541 534h1v1h-1zM542 534h1v1h-1zM543 535h1v1h-1zM544 535h1v1h-1zM545 536h1v1h-1zM546 536h1v1h-1zM547 537h1v1h-1zM548 537h1v1h-1zM549 538h1v1h-1zM550 538h1v1h-1zM551 539h1v1h-1zM552 539h1v1h-1zM553 540h1v1h-1zM554 540h1v1h-1zM555 541h1v1h-1zM556 541h1v1h-1zM557 542h1v1h-1zM558 542h1v1h-1zM559 543h1v1h-1zM560 543h1v1h-1zM561 544h1v1h-1zM562 544h1v1h-1zM563 545h1v1h-1zM564 545h1v1h-1zM565 546h1v1h-1zM566 546h1v1h-1zM567 547h1v1h-1zM568 547h1v1h-1zM569 548h1v1h-1zM570 548h1v1h-1zM571 549h1v1h-1zM572 549h1v1h-1zM573 550h1v1h-1zM574 550h1v1h-1zM575 551h1v1h-1zM576 551h1v1h-1zM577 552h1v1h-1zM578 552h1v1h-1zM579 553h1v1h-1zM580 553h1v1h-1zM581 554h1v1h-1zM582 554h1v1h-1zM583 555h1v1h-1zM584 555h1v1h-1zM585 556h1v1h-1zM586 556h1v1h-1zM587 556h1v1h-1zM588 557h1v1h-1zM589 557h1v1h-1zM590 557h1v1h-1zM591 558h1v1h-1zM592 558h1v1h-1zM593 559h1v1h-1zM594 559h1v1h-1zM595 559h1v1h-1zM596 560h1v1h-1zM597 560h1v1h-1zM598 560h1v1h-1zM599 560h1v1h-1zM600 561h1v1h-1zM601 561h1v1h-1zM602 561h1v1h-1zM603 561h1v1h-1zM604 562h1v1h-1zM605 562h1v1h-1zM606 562h1v1h-1zM607 562h1v1h-1zM608 563h1v1h-1zM609 563h1v1h-1zM610 563h1v1h-1zM611 563h1v1h-1zM612 563h1v1h-1zM613 563h1v1h-1zM614 563h1v1h-1zM615 563h1v1h-1zM616 563h1v1h-1zM617 562h1v1h-1zM618 562h1v1h-1zM619 562h1v1h-1zM620 562h1v1h-1zM621 562h1v1h-1zM622 562h1v1h-1zM623 562h1v1h-1zM624 562h1v1h-1zM625 561h1v1h-1zM626 561h1v1h-1zM627 561h1v1h-1zM628 561h1v1h-1zM629 560h1v1h-1zM630 560h1v1h-1zM631 560h1v1h-1zM632 560h1v1h-1zM633 559h1v1h-1zM634 559h1v1h-1zM635 559h1v1h-1zM636 559h1v1h-1zM637 558h1v1h-1zM638 558h1v1h-1zM639 558h1v1h-1zM640 558h1v1h-1zM641 557h1v1h-1zM642 557h1v1h-1zM643 557h1v1h-1zM644 556h1v1h-1zM645 556h1v1h-1zM646 555h1v1h-1zM647 555h1v1h-1zM648 555h1v1h-1zM649 554h1v1h-1zM650 554h1v1h-1zM651 554h1v1h-1zM652 554h1v1h-1zM653 553h1v1h-1zM654 553h1v1h-1zM655 553h1v1h-1zM656 553h1v1h-1zM657 552h1v1h-1zM658 552h1v1h-1zM659 552h1v1h-1zM660 551h1v1h-1zM661 551h1v1h-1zM662 550h1v1h-1zM663 550h1v1h-1zM664 550h1v1h-1zM665 549h1v1h-1zM666 549h1v1h-1zM667 549h1v1h-1zM668 549h1v1h-1zM669 548h1v1h-1zM670 548h1v1h-1zM671 548h1v1h-1zM672 547h1v1h-1zM673 547h1v1h-1zM674 546h1v1h-1zM675 546h1v1h-1zM676 546h1v1h-1zM677 545h1v1h-1zM678 545h1v1h-1zM679 545h1v1h-1zM680 545h1v1h-1zM681 544h1v1h-1zM682 544h1v1h-1zM683 544h1v1h-1zM684 544h1v1h-1zM685 543h1v1h-1zM686 543h1v1h-1zM687 543h1v1h-1zM688 542h1v1h-1zM689 542h1v1h-1zM690 541h1v1h-1zM691 541h1v1h-1zM692 541h1v1h-1zM693 540h1v1h-1zM694 540h1v1h-1zM695 540h1v1h-1zM696 539h1v1h-1zM697 539h1v1h-1zM698 538h1v1h-1zM699 538h1v1h-1zM700 538h1v1h-1zM701 537h1v1h-1zM702 537h1v1h-1zM703 537h1v1h-1zM704 536h1v1h-1zM705 536h1v1h-1zM706 535h1v1h-1zM707 535h1v1h-1zM708 534h1v1h-1zM709 534h1v1h-1zM710 533h1v1h-1zM711 533h1v1h-1zM712 532h1v1h-1zM713 532h1v1h-1zM714 531h1v1h-1zM715 530h1v1h-1zM716 530h1v1h-1zM717 529h1v1h-1zM718 528h1v1h-1zM719 527h1v1h-1zM720 526h1v1h-1zM721 525h1v1h-1zM722 524h1v1h-1zM723 523h1v1h-1zM724 523h1v1h-1zM725 522h1v1h-1zM726 521h1v1h-1zM727 520h1v1h-1zM728 520h1v1h-1zM729 519h1v1h-1zM730 518h1v1h-1zM731 517h1v1h-1zM732 517h1v1h-1zM733 516h1v1h-1zM734 515h1v1h-1zM735 514h1v1h-1zM736 514h1v1h-1zM737 513h1v1h-1zM738 512h1v1h-1zM739 512h1v1h-1zM740 511h1v1h-1zM741 511h1v1h-1zM742 510h1v1h-1zM743 510h1v1h-1zM744 510h1v1h-1zM745 509h1v1h-1zM746 509h1v1h-1zM747 509h1v1h-1zM748 508h1v1h-1zM749 508h1v1h-1zM750 507h1v1h-1zM751 507h1v1h-1zM752 507h1v1h-1zM753 507h1v1h-1zM754 507h1v1h-1zM755 507h1v1h-1zM756 507h1v1h-1zM757 506h1v1h-1zM758 506h1v1h-1zM759 506h1v1h-1zM760 506h1v1h-1zM761 506h1v1h-1zM762 506h1v1h-1zM763 506h1v1h-1zM764 507h1v1h-1zM765 507h1v1h-1zM766 507h1v1h-1zM767 507h1v1h-1zM768 507h1v1h-1zM769 507h1v1h-1zM770 507h1v1h-1zM771 507h1v1h-1zM772 508h1v1h-1zM773 508h1v1h-1zM774 508h1v1h-1zM775 508h1v1h-1zM776 508h1v1h-1zM777 507h1v1h-1zM778 507h1v1h-1zM779 507h1v1h-1zM780 507h1v1h-1zM781 507h1v1h-1zM782 507h1v1h-1zM783 507h1v1h-1zM784 507h1v1h-1zM785 507h1v1h-1zM786 507h1v1h-1zM787 507h1v1h-1zM788 507h1v1h-1zM789 506h1v1h-1zM790 506h1v1h-1zM791 506h1v1h-1zM792 506h1v1h-1zM793 505h1v1h-1zM794 505h1v1h-1zM795 505h1v1h-1zM796 505h1v1h-1zM797 505h1v1h-1zM798 505h1v1h-1zM799 505h1v1h-1zM800 505h1v1h-1zM801 504h1v1h-1zM802 504h1v1h-1zM803 504h1v1h-1zM804 504h1v1h-1zM805 503h1v1h-1zM806 503h1v1h-1zM807 503h1v1h-1zM808 503h1v1h-1zM809 502h1v1h-1zM810 502h1v1h-1zM811 502h1v1h-1zM812 502h1v1h-1zM813 502h1v1h-1zM814 502h1v1h-1zM815 502h1v1h-1zM816 502h1v1h-1zM817 501h1v1h-1zM818 501h1v1h-1zM819 501h1v1h-1zM820 500h1v1h-1zM821 500h1v1h-1zM822 499h1v1h-1zM823 499h1v1h-1zM824 499h1v1h-1zM825 498h1v1h-1zM826 498h1v1h-1zM827 498h1v1h-1zM828 498h1v1h-1zM829 497h1v1h-1zM830 497h1v1h-1zM831 497h1v1h-1zM832 497h1v1h-1zM833 496h1v1h-1zM834 496h1v1h-1zM835 496h1v1h-1zM836 496h1v1h-1zM837 496h1v1h-1zM838 496h1v1h-1zM839 496h1v1h-1zM840 496h1v1h-1zM841 496h1v1h-1zM842 496h1v1h-1zM843 496h1v1h-1zM844 496h1v1h-1zM845 496h1v1h-1zM846 496h1v1h-1zM847 496h1v1h-1zM848 497h1v1h-1zM849 497h1v1h-1zM850 497h1v1h-1zM851 497h1v1h-1zM852 498h1v1h-1zM853 498h1v1h-1zM854 498h1v1h-1zM855 499h1v1h-1zM856 499h1v1h-1zM857 500h1v1h-1zM858 500h1v1h-1zM859 501h1v1h-1zM860 502h1v1h-1zM861 502h1v1h-1zM862 503h1v1h-1zM863 504h1v1h-1zM864 504h1v1h-1zM865 505h1v1h-1zM866 505h1v1h-1zM867 506h1v1h-1zM868 507h1v1h-1zM869 507h1v1h-1zM870 508h1v1h-1zM871 509h1v1h-1zM872 509h1v1h-1zM873 510h1v1h-1zM874 510h1v1h-1zM875 511h1v1h-1zM876 511h1v1h-1zM877 512h1v1h-1zM878 512h1v1h-1zM879 513h1v1h-1zM880 513h1v1h-1zM881 514h1v1h-1zM882 514h1v1h-1zM883 514h1v1h-1zM884 515h1v1h-1zM885 515h1v1h-1zM886 515h1v1h-1zM887 516h1v1h-1zM888 516h1v1h-1zM889 517h1v1h-1zM890 517h1v1h-1zM891 517h1v1h-1zM892 518h1v1h-1zM893 518h1v1h-1zM894 518h1v1h-1zM895 518h1v1h-1zM896 519h1v1h-1zM897 519h1v1h-1zM898 519h1v1h-1zM899 519h1v1h-1zM900 519h1v1h-1zM901 519h1v1h-1zM902 519h1v1h-1zM903 519h1v1h-1zM904 519h1v1h-1zM905 519h1v1h-1zM906 519h1v1h-1zM907 519h1v1h-1zM908 520h1v1h-1zM909 520h1v1h-1zM910 520h1v1h-1zM911 520h1v1h-1zM912 521h1v1h-1zM913 521h1v1h-1zM914 521h1v1h-1zM915 521h1v1h-1zM916 521h1v1h-1zM917 521h1v1h-1zM918 521h1v1h-1zM919 521h1v1h-1zM920 521h1v1h-1zM921 521h1v1h-1zM922 521h1v1h-1z"/>

<path stroke="#c0c0c0" stroke-width="1" stroke-dasharray="3 3" fill="none" d="M3 598.5H1164"/>
<path stroke="#c0c0c0" stroke-width="1" stroke-dasharray="3 3" fill="none" d="M3 632.5H1164"/>
<path fill="#1e90ff" d="M2 618h1v1h-1zM3 619h1v1h-1zM4 619h1v1h-1zM5 620h1v1h-1zM6 620h1v1h-1zM7 619h1v1h-1zM8 619h1v1h-1zM9 618h1v1h-1zM10 617h1v1h-1zM11 617h1v1h-1zM12 618h1v1h-1zM13 618h1v1h-1zM14 618h1v1h-1zM15 619h1v1h-1zM16 620h1v1h-1zM17 620h1v1h-1zM18 621h1v1h-1zM19 622h1v1h-1zM20 622h1v1h-1zM21 623h1v1h-1zM22 623h1v1h-1zM23 623h1v1h-1zM24 623h1v1h-1zM25 623h1v1h-1zM26 623h1v1h-1zM27 624h1v1h-1zM28 624h1v1h-1zM29 625h1v1h-1zM30 625h1v1h-1zM31 625h1v1h-1zM32 625h1v1h-1zM33 625h1v1h-1zM34 625h1v1h-1zM35 625h1v1h-1zM36 626h1v1h-1zM37 626h1v1h-1zM38 626h1v1h-1zM39 626h1v1h-1zM40 626h1v1h-1zM41 626h1v1h-1zM42 626h1v1h-1zM43 627h1v1h-1zM44 627h1v1h-1zM45 628h1v1h-1zM46 628h1v1h-1zM47 629h1v1h-1zM48 630h1v1h-1zM49 631h1v1h-1zM50 632h1v1h-1zM51 633h1v1h-1zM52 634h1v1h-1zM53 634h1v1h-1zM54 635h1v1h-1zM55 636h1v1h-1zM56 636h1v1h-1zM57 637h1v1h-1zM58 637h1v1h-1zM59 636h1v1h-1zM60 634h1v2h-1zM61 633h1v1h-1zM62 632h1v1h-1zM63 632h1v1h-1zM64 633h1v1h-1zM65 633h1v1h-1zM66 633h1v1h-1zM67 633h1v1h-1zM68 633h1v1h-1zM69 633h1v1h-1zM70 633h1v1h-1zM71 634h1v1h-1zM72 634h1v1h-1zM73 635h1v1h-1zM74 635h1v1h-1zM75 633h1v2h-1zM76 632h1v1h-1zM77 630h1v2h-1zM78 629h1v1h-1zM79 629h1v1h-1zM80 629h1v1h-1zM81 629h1v1h-1zM82 629h1v1h-1zM83 629h1v1h-1zM84 629h1v1h-1zM85 629h1v1h-1zM86 629h1v1h-1zM87 630h1v1h-1zM88 630h1v1h-1zM89 631h1v1h-1zM90 631h1v1h-1zM91 630h1v1h-1zM92 630h1v1h-1zM93 629h1v1h-1zM94 628h1v1h-1zM95 629h1v1h-1zM96 630h1v1h-1zM97 630h1v1h-1zM98 631h1v1h-1zM99 629h1v2h-1zM100 627h1v2h-1zM101 625h1v2h-1zM102 624h1v1h-1zM103 624h1v1h-1zM104 624h1v1h-1zM105 623h1v1h-1zM106 623h1v1h-1zM107 621h1v2h-1zM108 619h1v2h-1zM109 617h1v2h-1zM110 615h1v2h-1zM111 614h1v1h-1zM112 613h1v1h-1zM113 612h1v1h-1zM114 611h1v1h-1zM115 612h1v1h-1zM116 613h1v2h-1zM117 615h1v1h-1zM118 616h1v1h-1zM119 616h1v1h-1zM120 617h1v1h-1zM121 617h1v1h-1zM122 617h1v1h-1zM123 617h1v1h-1zM124 617h1v1h-1zM125 617h1v1h-1zM126 617h1v1h-1zM127 617h1v1h-1zM128 616h1v1h-1zM129 616h1v1h-1zM130 615h1v1h-1zM131 616h1v1h-1zM132 617h1v1h-1zM133 618h1v1h-1zM134 619h1v1h-1zM135 620h1v1h-1zM136 621h1v1h-1zM137 621h1v1h-1zM138 622h1v1h-1zM139 623h1v1h-1zM140 624h1v1h-1zM141 624h1v1h-1zM142 625h1v1h-1zM143 625h1v1h-1zM144 626h1v1h-1zM145 626h1v1h-1zM146 626h1v1h-1zM147 626h1v1h-1zM148 625h1v1h-1zM149 625h1v1h-1zM150 624h1v1h-1zM151 624h1v1h-1zM152 624h1v1h-1zM153 624h1v1h-1zM154 624h1v1h-1zM155 625h1v1h-1zM156 626h1v1h-1zM157 626h1v1h-1zM158 627h1v1h-1zM159 626h1v1h-1zM160 626h1v1h-1zM161 625h1v1h-1zM162 624h1v1h-1zM163 625h1v1h-1zM164 625h1v1h-1zM165 626h1v1h-1zM166 626h1v1h-1zM167 625h1v1h-1zM168 624h1v1h-1zM169 623h1v1h-1zM170 622h1v1h-1zM171 620h1v2h-1zM172 618h1v2h-1zM173 616h1v2h-1zM174 614h1v2h-1zM175 615h1v1h-1zM176 616h1v1h-1zM177 616h1v1h-1zM178 617h1v1h-1zM179 618h1v1h-1zM180 619h1v1h-1zM181 620h1v1h-1zM182 621h1v1h-1zM183 622h1v1h-1zM184 623h1v1h-1zM185 624h1v1h-1zM186 624h1v2h-1zM187 622h1v2h-1zM188 620h1v2h-1zM189 618h1v2h-1zM190 616h1v2h-1zM191 617h1v1h-1zM192 617h1v1h-1zM193 618h1v1h-1zM194 618h1v1h-1zM195 618h1v1h-1zM196 617h1v1h-1zM197 617h1v1h-1zM198 616h1v1h-1zM199 617h1v1h-1zM200 618h1v1h-1zM201 618h1v1h-1zM202 619h1v1h-1zM203 620h1v1h-1zM204 621h1v2h-1zM205 623h1v1h-1zM206 624h1v1h-1zM207 624h1v1h-1zM208 624h1v1h-1zM209 624h1v1h-1zM210 624h1v1h-1zM211 622h1v2h-1zM212 620h1v2h-1zM213 618h1v2h-1zM214 617h1v1h-1zM215 617h1v1h-1zM216 617h1v1h-1zM217 616h1v1h-1zM218 616h1v1h-1zM219 616h1v1h-1zM220 616h1v1h-1zM221 615h1v1h-1zM222 615h1v1h-1zM223 616h1v1h-1zM224 617h1v1h-1zM225 617h1v1h-1zM226 618h1v1h-1zM227 617h1v1h-1zM228 615h1v2h-1zM229 614h1v1h-1zM230 613h1v1h-1zM231 613h1v1h-1zM232 612h1v1h-1zM233 612h1v1h-1zM234 611h1v1h-1zM235 612h1v1h-1zM236 612h1v1h-1zM237 613h1v1h-1zM238 613h1v1h-1zM239 612h1v1h-1zM240 612h1v1h-1zM241 611h1v1h-1zM242 610h1v1h-1zM243 610h1v1h-1zM244 610h1v1h-1zM245 609h1v1h-1zM246 609h1v1h-1zM247 609h1v1h-1zM248 609h1v1h-1zM249 609h1v1h-1zM250 609h1v1h-1zM251 610h1v1h-1zM252 611h1v1h-1zM253 612h1v1h-1zM254 613h1v1h-1zM255 613h1v1h-1zM256 612h1v1h-1zM257 612h1v1h-1zM258 611h1v1h-1zM259 612h1v1h-1zM260 613h1v1h-1zM261 613h1v1h-1zM262 614h1v1h-1zM263 614h1v1h-1zM264 615h1v1h-1zM265 615h1v1h-1zM266 615h1v1h-1zM267 616h1v1h-1zM268 616h1v1h-1zM269 617h1v1h-1zM270 617h1v1h-1zM271 618h1v1h-1zM272 618h1v1h-1zM273 619h1v1h-1zM274 619h1v1h-1zM275 620h1v1h-1zM276 620h1v1h-1zM277 621h1v1h-1zM278 621h1v1h-1zM279 621h1v1h-1zM280 621h1v1h-1zM281 621h1v1h-1zM282 621h1v1h-1zM283 621h1v1h-1zM284 621h1v1h-1zM285 620h1v1h-1zM286 620h1v1h-1zM287 620h1v1h-1zM288 620h1v1h-1zM289 620h1v1h-1zM290 620h1v1h-1zM291 621h1v1h-1zM292 622h1v2h-1zM293 624h1v1h-1zM294 625h1v1h-1zM295 624h1v1h-1zM296 623h1v1h-1zM297 622h1v1h-1zM298 621h1v1h-1zM299 620h1v1h-1zM300 618h1v2h-1zM301 617h1v1h-1zM302 616h1v1h-1zM303 616h1v1h-1zM304 617h1v1h-1zM305 617h1v1h-1zM306 617h1v1h-1zM307 618h1v2h-1zM308 620h1v2h-1zM309 622h1v2h-1zM310 624h1v2h-1zM311 625h1v1h-1zM312 625h1v1h-1zM313 624h1v1h-1zM314 624h1v1h-1zM315 624h1v1h-1zM316 624h1v1h-1zM317 624h1v1h-1zM318 624h1v1h-1zM319 624h1v1h-1zM320 625h1v1h-1zM321 625h1v1h-1zM322 625h1v1h-1zM323 626h1v1h-1zM324 627h1v1h-1zM325 627h1v1h-1zM326 628h1v1h-1zM327 629h1v1h-1zM328 630h1v1h-1zM329 630h1v1h-1zM330 630h1v2h-1zM331 626h1v4h-1zM332 623h1v3h-1zM333 619h1v4h-1zM334 617h1v2h-1zM335 616h1v1h-1zM336 615h1v1h-1zM337 614h1v1h-1zM338 613h1v1h-1zM339 614h1v1h-1zM340 615h1v1h-1zM341 616h1v1h-1zM342 617h1v1h-1zM343 618h1v1h-1zM344 618h1v1h-1zM345 619h1v1h-1zM346 619h1v1h-1zM347 619h1v1h-1zM348 619h1v1h-1zM349 619h1v1h-1zM350 619h1v1h-1zM351 619h1v1h-1zM352 620h1v1h-1zM353 620h1v1h-1zM354 620h1v1h-1zM355 618h1v2h-1zM356 617h1v1h-1zM357 615h1v2h-1zM358 614h1v1h-1zM359 614h1v1h-1zM360 615h1v1h-1zM361 615h1v1h-1zM362 615h1v1h-1zM363 615h1v1h-1zM364 615h1v1h-1zM365 615h1v1h-1zM366 615h1v1h-1zM367 616h1v1h-1zM368 616h1v1h-1zM369 617h1v1h-1zM370 617h1v1h-1zM371 617h1v1h-1zM372 617h1v1h-1zM373 617h1v1h-1zM374 617h1v1h-1zM375 618h1v1h-1zM376 619h1v2h-1zM377 621h1v1h-1zM378 622h1v1h-1zM379 623h1v1h-1zM380 624h1v2h-1zM381 626h1v1h-1zM382 627h1v1h-1zM383 627h1v1h-1zM384 628h1v1h-1zM385 628h1v1h-1zM386 628h1v1h-1zM387 628h1v1h-1zM388 628h1v1h-1zM389 627h1v1h-1zM390 627h1v1h-1zM391 628h1v1h-1zM392 628h1v1h-1zM393 629h1v1h-1zM394 629h1v1h-1zM395 628h1v1h-1zM396 628h1v1h-1zM397 627h1v1h-1zM398 626h1v1h-1zM399 627h1v1h-1zM400 627h1v1h-1zM401 628h1v1h-1zM402 628h1v1h-1zM403 626h1v2h-1zM404 624h1v2h-1zM405 622h1v2h-1zM406 621h1v1h-1zM407 621h1v1h-1zM408 622h1v1h-1zM409 622h1v1h-1zM410 622h1v1h-1zM411 621h1v1h-1zM412 621h1v1h-1zM413 620h1v1h-1zM414 619h1v1h-1zM415 619h1v1h-1zM416 618h1v1h-1zM417 618h1v1h-1zM418 617h1v1h-1zM419 617h1v1h-1zM420 617h1v1h-1zM421 617h1v1h-1zM422 617h1v1h-1zM423 615h1v2h-1zM424 614h1v1h-1zM425 612h1v2h-1zM426 611h1v1h-1zM427 612h1v1h-1zM428 613h1v1h-1zM429 614h1v1h-1zM430 615h1v1h-1zM431 615h1v1h-1zM432 614h1v1h-1zM433 614h1v1h-1zM434 613h1v1h-1zM435 613h1v1h-1zM436 613h1v1h-1zM437 613h1v1h-1zM438 613h1v1h-1zM439 612h1v1h-1zM440 612h1v1h-1zM441 611h1v1h-1zM442 610h1v1h-1zM443 611h1v1h-1zM444 612h1v2h-1zM445 614h1v1h-1zM446 615h1v1h-1zM447 615h1v1h-1zM448 616h1v1h-1zM449 616h1v1h-1zM450 616h1v1h-1zM451 617h1v1h-1zM452 617h1v1h-1zM453 618h1v1h-1zM454 618h1v1h-1zM455 618h1v1h-1zM456 617h1v1h-1zM457 617h1v1h-1zM458 616h1v1h-1zM459 617h1v1h-1zM460 618h1v2h-1zM461 620h1v1h-1zM462 621h1v1h-1zM463 620h1v1h-1zM464 620h1v1h-1zM465 619h1v1h-1zM466 618h1v1h-1zM467 616h1v2h-1zM468 615h1v1h-1zM469 613h1v2h-1zM470 612h1v1h-1zM471 613h1v1h-1zM472 614h1v1h-1zM473 614h1v1h-1zM474 615h1v1h-1zM475 616h1v1h-1zM476 617h1v1h-1zM477 617h1v1h-1zM478 618h1v1h-1zM479 618h1v1h-1zM480 619h1v1h-1zM481 619h1v1h-1zM482 619h1v1h-1zM483 618h1v1h-1zM484 618h1v1h-1zM485 617h1v1h-1zM486 616h1v1h-1zM487 616h1v1h-1zM488 617h1v1h-1zM489 617h1v1h-1zM490 617h1v1h-1zM491 618h1v1h-1zM492 619h1v1h-1zM493 619h1v1h-1zM494 620h1v1h-1zM495 620h1v1h-1zM496 619h1v1h-1zM497 619h1v1h-1zM498 618h1v1h-1zM499 619h1v1h-1zM500 620h1v1h-1zM501 620h1v1h-1zM502 621h1v1h-1zM503 621h1v1h-1zM504 620h1v1h-1zM505 620h1v1h-1zM506 619h1v1h-1zM507 619h1v1h-1zM508 618h1v1h-1zM509 618h1v1h-1zM510 617h1v1h-1zM511 616h1v1h-1zM512 615h1v1h-1zM513 614h1v1h-1zM514 613h1v1h-1zM515 614h1v2h-1zM516 616h1v2h-1zM517 618h1v2h-1zM518 620h1v2h-1zM519 621h1v1h-1zM520 621h1v1h-1zM521 620h1v1h-1zM522 620h1v1h-1zM523 620h1v1h-1zM524 620h1v1h-1zM525 620h1v1h-1zM526 620h1v1h-1zM527 621h1v1h-1zM528 621h1v1h-1zM529 622h1v1h-1zM530 622h1v1h-1zM531 623h1v1h-1zM532 624h1v1h-1zM533 625h1v1h-1zM534 626h1v1h-1zM535 626h1v1h-1zM536 627h1v1h-1zM537 627h1v1h-1zM538 627h1v1h-1zM539 628h1v1h-1zM540 628h1v1h-1zM541 629h1v1h-1zM542 629h1v1h-1zM543 630h1v1h-1zM544 631h1v2h-1zM545 633h1v1h-1zM546 634h1v1h-1zM547 634h1v1h-1zM548 634h1v1h-1zM549 634h1v1h-1zM550 634h1v1h-1zM551 634h1v1h-1zM552 634h1v1h-1zM553 634h1v1h-1zM554 634h1v1h-1zM555 634h1v1h-1zM556 635h1v1h-1zM557 635h1v1h-1zM558 635h1v1h-1zM559 633h1v2h-1zM560 631h1v2h-1zM561 629h1v2h-1zM562 628h1v1h-1zM563 629h1v1h-1zM564 630h1v2h-1zM565 632h1v1h-1zM566 633h1v1h-1zM567 634h1v1h-1zM568 635h1v1h-1zM569 635h1v1h-1zM570 636h1v1h-1zM571 637h1v1h-1zM572 637h1v1h-1zM573 638h1v1h-1zM574 638h1v1h-1zM575 638h1v1h-1zM576 638h1v1h-1zM577 638h1v1h-1zM578 638h1v1h-1zM579 639h1v1h-1zM580 639h1v1h-1zM581 640h1v1h-1zM582 640h1v1h-1zM583 640h1v1h-1zM584 640h1v1h-1zM585 639h1v1h-1zM586 639h1v1h-1zM587 639h1v1h-1zM588 638h1v1h-1zM589 638h1v1h-1zM590 637h1v1h-1zM591 635h1v2h-1zM592 634h1v1h-1zM593 632h1v2h-1zM594 631h1v1h-1zM595 632h1v1h-1zM596 632h1v1h-1zM597 633h1v1h-1zM598 633h1v1h-1zM599 633h1v1h-1zM600 633h1v1h-1zM601 633h1v1h-1zM602 633h1v1h-1zM603 633h1v1h-1zM604 634h1v1h-1zM605 634h1v1h-1zM606 634h1v1h-1zM607 635h1v1h-1zM608 635h1v1h-1zM609 636h1v1h-1zM610 636h1v1h-1zM611 635h1v1h-1zM612 634h1v1h-1zM613 633h1v1h-1zM614 632h1v1h-1zM615 633h1v1h-1zM616 633h1v1h-1zM617 634h1v1h-1zM618 634h1v1h-1zM619 633h1v1h-1zM620 633h1v1h-1zM621 632h1v1h-1zM622 631h1v1h-1zM623 631h1v1h-1zM624 631h1v1h-1zM625 630h1v1h-1zM626 630h1v1h-1zM627 630h1v1h-1zM628 629h1v1h-1zM629 629h1v1h-1zM630 628h1v1h-1zM631 628h1v1h-1zM632 629h1v1h-1zM633 629h1v1h-1zM634 629h1v1h-1zM635 627h1v2h-1zM636 626h1v1h-1zM637 624h1v2h-1zM638 623h1v1h-1zM639 624h1v1h-1zM640 625h1v1h-1zM641 625h1v1h-1zM642 626h1v1h-1zM643 626h1v1h-1zM644 626h1v1h-1zM645 625h1v1h-1zM646 625h1v1h-1zM647 625h1v1h-1zM648 625h1v1h-1zM649 625h1v1h-1zM650 625h1v1h-1zM651 625h1v1h-1zM652 626h1v1h-1zM653 626h1v1h-1zM654 626h1v1h-1zM655 627h1v1h-1zM656 628h1v1h-1zM657 629h1v1h-1zM658 630h1v1h-1zM659 629h1v1h-1zM660 628h1v1h-1zM661 627h1v1h-1zM662 626h1v1h-1zM663 624h1v2h-1zM664 622h1v2h-1zM665 620h1v2h-1zM666 618h1v2h-1zM667 619h1v1h-1zM668 619h1v1h-1zM669 620h1v1h-1zM670 620h1v1h-1zM671 621h1v1h-1zM672 621h1v1h-1zM673 622h1v1h-1zM674 622h1v1h-1zM675 622h1v1h-1zM676 623h1v1h-1zM677 623h1v1h-1zM678 623h1v1h-1zM679 622h1v1h-1zM680 620h1v2h-1zM681 619h1v1h-1zM682 618h1v1h-1zM683 618h1v1h-1zM684 618h1v1h-1zM685 618h1v1h-1zM686 618h1v1h-1zM687 618h1v1h-1zM688 617h1v1h-1zM689 617h1v1h-1zM690 616h1v1h-1zM691 614h1v2h-1zM692 613h1v1h-1zM693 611h1v2h-1zM694 610h1v1h-1zM695 610h1v1h-1zM696 610h1v1h-1zM697 610h1v1h-1zM698 610h1v1h-1zM699 611h1v1h-1zM700 612h1v1h-1zM701 613h1v1h-1zM702 614h1v1h-1zM703 612h1v2h-1zM704 610h1v2h-1zM705 608h1v2h-1zM706 607h1v1h-1zM707 608h1v1h-1zM708 609h1v1h-1zM709 610h1v1h-1zM710 610h1v2h-1zM711 607h1v3h-1zM712 604h1v3h-1zM713 601h1v3h-1zM714 599h1v2h-1zM715 598h1v1h-1zM716 597h1v1h-1zM717 596h1v1h-1zM718 595h1v1h-1zM719 595h1v1h-1zM720 596h1v1h-1zM721 596h1v1h-1zM722 596h1v1h-1zM723 597h1v2h-1zM724 599h1v1h-1zM725 600h1v2h-1zM726 602h1v1h-1zM727 603h1v1h-1zM728 603h1v1h-1zM729 604h1v1h-1zM730 604h1v1h-1zM731 605h1v2h-1zM732 607h1v1h-1zM733 608h1v2h-1zM734 610h1v1h-1zM735 609h1v1h-1zM736 609h1v1h-1zM737 608h1v1h-1zM738 607h1v1h-1zM739 608h1v1h-1zM740 609h1v1h-1zM741 609h1v1h-1zM742 610h1v1h-1zM743 610h1v1h-1zM744 610h1v1h-1zM745 609h1v1h-1zM746 609h1v1h-1zM747 609h1v1h-1zM748 609h1v1h-1zM749 608h1v1h-1zM750 608h1v1h-1zM751 607h1v1h-1zM752 607h1v1h-1zM753 606h1v1h-1zM754 605h1v1h-1zM755 605h1v1h-1zM756 604h1v1h-1zM757 604h1v1h-1zM758 603h1v1h-1zM759 603h1v1h-1zM760 603h1v1h-1zM761 603h1v1h-1zM762 603h1v1h-1zM763 604h1v2h-1zM764 606h1v1h-1zM765 607h1v2h-1zM766 609h1v1h-1zM767 610h1v1h-1zM768 611h1v1h-1zM769 611h1v1h-1zM770 612h1v1h-1zM771 612h1v1h-1zM772 612h1v1h-1zM773 611h1v1h-1zM774 610h1v2h-1zM775 608h1v2h-1zM776 606h1v2h-1zM777 604h1v2h-1zM778 602h1v2h-1zM779 601h1v1h-1zM780 601h1v1h-1zM781 600h1v1h-1zM782 599h1v1h-1zM783 599h1v1h-1zM784 600h1v1h-1zM785 600h1v1h-1zM786 600h1v1h-1zM787 601h1v1h-1zM788 602h1v1h-1zM789 603h1v1h-1zM790 604h1v1h-1zM791 605h1v1h-1zM792 606h1v1h-1zM793 606h1v1h-1zM794 607h1v1h-1zM795 607h1v1h-1zM796 607h1v1h-1zM797 607h1v1h-1zM798 607h1v1h-1zM799 606h1v1h-1zM800 605h1v1h-1zM801 604h1v1h-1zM802 603h1v1h-1zM803 603h1v1h-1zM804 603h1v1h-1zM805 602h1v1h-1zM806 602h1v1h-1zM807 602h1v1h-1zM808 601h1v1h-1zM809 601h1v1h-1zM810 600h1v1h-1zM811 600h1v1h-1zM812 600h1v1h-1zM813 599h1v1h-1zM814 599h1v1h-1zM815 599h1v1h-1zM816 599h1v1h-1zM817 598h1v1h-1zM818 598h1v1h-1zM819 596h1v2h-1zM820 595h1v1h-1zM821 593h1v2h-1zM822 592h1v1h-1zM823 593h1v1h-1zM824 594h1v1h-1zM825 594h1v1h-1zM826 595h1v2h-1zM827 597h1v4h-1zM828 601h1v4h-1zM829 605h1v4h-1zM830 609h1v2h-1zM831 610h1v1h-1zM832 610h1v1h-1zM833 609h1v1h-1zM834 609h1v1h-1zM835 609h1v1h-1zM836 608h1v1h-1zM837 608h1v1h-1zM838 607h1v1h-1zM839 608h1v1h-1zM840 608h1v1h-1zM841 609h1v1h-1zM842 609h1v1h-1zM843 610h1v1h-1zM844 611h1v1h-1zM845 611h1v1h-1zM846 612h1v1h-1zM847 611h1v1h-1zM848 611h1v1h-1zM849 610h1v1h-1zM850 609h1v1h-1zM851 610h1v1h-1zM852 610h1v1h-1zM853 611h1v1h-1zM854 611h1v1h-1zM855 612h1v2h-1zM856 614h1v2h-1zM857 616h1v2h-1zM858 618h1v2h-1zM859 619h1v1h-1zM860 618h1v1h-1zM861 618h1v1h-1zM862 617h1v1h-1zM863 617h1v1h-1zM864 617h1v1h-1zM865 616h1v1h-1zM866 616h1v1h-1zM867 616h1v1h-1zM868 616h1v1h-1zM869 615h1v1h-1zM870 615h1v1h-1zM871 614h1v1h-1zM872 613h1v1h-1zM873 612h1v1h-1zM874 611h1v1h-1zM875 611h1v1h-1zM876 611h1v1h-1zM877 611h1v1h-1zM878 611h1v1h-1zM879 612h1v1h-1zM880 613h1v1h-1zM881 614h1v1h-1zM882 615h1v1h-1zM883 614h1v1h-1zM884 613h1v1h-1zM885 612h1v1h-1zM886 611h1v1h-1zM887 611h1v1h-1zM888 611h1v1h-1zM889 611h1v1h-1zM890 611h1v1h-1zM891 611h1v1h-1zM892 611h1v1h-1zM893 610h1v1h-1zM894 610h1v1h-1zM895 611h1v1h-1zM896 612h1v1h-1zM897 612h1v1h-1zM898 613h1v1h-1zM899 613h1v1h-1zM900 614h1v1h-1zM901 614h1v1h-1zM902 614h1v1h-1zM903 614h1v1h-1zM904 615h1v1h-1zM905 615h1v1h-1zM906 615h1v1h-1zM907 615h1v1h-1zM908 615h1v1h-1zM909 615h1v1h-1zM910 615h1v1h-1zM911 615h1v1h-1zM912 615h1v1h-1zM913 615h1v1h-1zM914 615h1v1h-1zM915 614h1v1h-1zM916 612h1v2h-1zM917 611h1v1h-1zM918 610h1v1h-1zM919 610h1v1h-1zM920 610h1v1h-1zM921 610h1v1h-1zM922 610h1v1h-1z"/>

<g font-family="'Liberation Sans', Arial, sans-serif" font-size="10" fill="#000" shape-rendering="auto" text-rendering="geometricPrecision" stroke="#000" stroke-width="0.2">
<text x="1169.6" y="54.8" textLength="34.3" lengthAdjust="spacingAndGlyphs">1.31080</text>
<text x="1169.6" y="87.8" textLength="34.3" lengthAdjust="spacingAndGlyphs">1.30230</text>
<text x="1169.6" y="120.8" textLength="34.3" lengthAdjust="spacingAndGlyphs">1.29355</text>
<text x="1169.6" y="153.8" textLength="34.3" lengthAdjust="spacingAndGlyphs">1.28480</text>
<text x="1169.6" y="186.8" textLength="34.3" lengthAdjust="spacingAndGlyphs">1.27630</text>
<text x="1169.6" y="219.8" textLength="34.3" lengthAdjust="spacingAndGlyphs">1.26755</text>
<text x="1169.6" y="252.8" textLength="34.3" lengthAdjust="spacingAndGlyphs">1.25905</text>
<text x="1169.6" y="285.8" textLength="34.3" lengthAdjust="spacingAndGlyphs">1.25030</text>
<text x="1169.6" y="318.8" textLength="34.3" lengthAdjust="spacingAndGlyphs">1.24180</text>
<text x="1169.6" y="351.8" textLength="34.3" lengthAdjust="spacingAndGlyphs">1.23305</text>
<text x="1169.6" y="384.8" textLength="34.3" lengthAdjust="spacingAndGlyphs">1.22430</text>
<text x="1169.6" y="417.8" textLength="34.3" lengthAdjust="spacingAndGlyphs">1.21580</text>
<text x="1169.6" y="450.8" textLength="34.3" lengthAdjust="spacingAndGlyphs">1.20730</text>
<text x="1169.6" y="483.8" textLength="34.3" lengthAdjust="spacingAndGlyphs">1.19855</text>
<rect x="1166" y="136" width="40" height="11" fill="#ff0000" shape-rendering="crispEdges"/><text x="1169.8" y="145.0" textLength="33.8" lengthAdjust="spacingAndGlyphs" fill="#fff" stroke="#fff">1.28700</text>
<rect x="1166" y="212" width="40" height="11" fill="#ff0000" shape-rendering="crispEdges"/><text x="1169.8" y="221.0" textLength="33.8" lengthAdjust="spacingAndGlyphs" fill="#fff" stroke="#fff">1.26700</text>
<rect x="1166" y="277" width="40" height="11" fill="#00ff00" shape-rendering="crispEdges"/><text x="1169.8" y="286.0" textLength="33.8" lengthAdjust="spacingAndGlyphs" fill="#fff" stroke="#fff">1.25003</text>
<rect x="1166" y="353" width="40" height="11" fill="#0000ff" shape-rendering="crispEdges"/><text x="1169.8" y="362.0" textLength="33.8" lengthAdjust="spacingAndGlyphs" fill="#fff" stroke="#fff">1.23003</text>
<rect x="1166" y="445" width="40" height="11" fill="#0000ff" shape-rendering="crispEdges"/><text x="1169.8" y="454.0" textLength="33.8" lengthAdjust="spacingAndGlyphs" fill="#fff" stroke="#fff">1.20609</text>
<rect x="1166" y="252" width="40" height="11" fill="#000000" shape-rendering="crispEdges"/><text x="1169.8" y="261.0" textLength="33.8" lengthAdjust="spacingAndGlyphs" fill="#fff" stroke="#fff">1.25690</text>
<text x="1168.0" y="496.0" textLength="33.5" lengthAdjust="spacingAndGlyphs">0.01135</text>
<text x="1168.0" y="531.0" textLength="19.0" lengthAdjust="spacingAndGlyphs">0.00</text>
<text x="1168.0" y="566.0" textLength="41.5" lengthAdjust="spacingAndGlyphs">-0.011904</text>
<text x="1168.0" y="582.2" textLength="15.2" lengthAdjust="spacingAndGlyphs">100</text>
<text x="1167.0" y="602.2" textLength="10.4" lengthAdjust="spacingAndGlyphs">70</text>
<text x="1167.0" y="636.2" textLength="10.4" lengthAdjust="spacingAndGlyphs">30</text>
<text x="1167.6" y="655.2" textLength="5.6" lengthAdjust="spacingAndGlyphs">0</text>
<path d="M5 34h7l-3.5 -4z" fill="#000"/>
<text x="16.6" y="35.0" textLength="66.5" lengthAdjust="spacingAndGlyphs">USDCAD,Daily</text>
<text x="88.8" y="35.0" textLength="141.8" lengthAdjust="spacingAndGlyphs">1.25681 1.25782 1.25654 1.25690</text>
<text x="5.4" y="498.0" textLength="149.5" lengthAdjust="spacingAndGlyphs">MACD(12,26,9) 0.001413 0.001571</text>
<text x="5.4" y="584.0" textLength="70.0" lengthAdjust="spacingAndGlyphs">RSI(14) 55.7463</text>
<text x="0.8" y="671.0" textLength="54.3" lengthAdjust="spacingAndGlyphs">19 Nov 2020</text>
<text x="64.7" y="671.0" textLength="47.5" lengthAdjust="spacingAndGlyphs">8 Dec 2020</text>
<text x="128.8" y="671.0" textLength="52.4" lengthAdjust="spacingAndGlyphs">28 Dec 2020</text>
<text x="192.8" y="671.0" textLength="49.7" lengthAdjust="spacingAndGlyphs">16 Jan 2021</text>
<text x="257.1" y="671.0" textLength="46.8" lengthAdjust="spacingAndGlyphs">4 Feb 2021</text>
<text x="321.1" y="671.0" textLength="51.8" lengthAdjust="spacingAndGlyphs">23 Feb 2021</text>
<text x="385.0" y="671.0" textLength="51.9" lengthAdjust="spacingAndGlyphs">13 Mar 2021</text>
<text x="449.2" y="671.0" textLength="45.7" lengthAdjust="spacingAndGlyphs">1 Apr 2021</text>
<text x="512.8" y="671.0" textLength="51.1" lengthAdjust="spacingAndGlyphs">20 Apr 2021</text>
<text x="576.8" y="671.0" textLength="50.1" lengthAdjust="spacingAndGlyphs">8 May 2021</text>
<text x="640.9" y="671.0" textLength="54.7" lengthAdjust="spacingAndGlyphs">27 May 2021</text>
<text x="705.2" y="671.0" textLength="49.4" lengthAdjust="spacingAndGlyphs">15 Jun 2021</text>
<text x="769.2" y="671.0" textLength="41.3" lengthAdjust="spacingAndGlyphs">3 Jul 2021</text>
<text x="833.1" y="671.0" textLength="47.1" lengthAdjust="spacingAndGlyphs">22 Jul 2021</text>
<text x="897.0" y="671.0" textLength="52.6" lengthAdjust="spacingAndGlyphs">10 Aug 2021</text>
</g>
</svg>
<div id="toolbar"><div id="d1btn"></div><div id="tbsep"></div>
<span style="left:-2.5px">5</span>
<span style="left:13.0px">M30</span>
<span style="left:44.0px">H1</span>
<span style="left:71.0px">H4</span>
<span style="left:99.8px">D1</span>
<span style="left:128.0px">W1</span>
<span style="left:154.0px">MN</span>
</div><div id="tbline1"></div><div id="tbline2"></div>
<div id="pbg"></div><div id="panel"><div id="pwhite"></div>
<div class="pprice" style="left:0"><span class="s" style="left:19px">1.25</span><span class="l" style="left:47px">69</span><span class="u" style="left:87px">3</span></div>
<div class="pprice" style="left:111px;width:108px"><span class="s" style="left:18px">1.25</span><span class="l" style="left:46px">71</span><span class="u" style="left:86px">3</span></div>
<div class="pbtn" style="left:0"><b>SELL</b><i></i></div>
<div class="pbtn" style="left:167px"><b>BUY</b><i></i></div>
<div id="spin"><div class="b l" style="left:1px"><svg width="19" height="18"><path d="M6 7h6l-3 3z" fill="#4a63c8"/></svg></div><span class="v">3.00</span><div class="b r" style="right:1px"><svg width="19" height="18"><path d="M6 10h6l-3 -3z" fill="#4a63c8"/></svg></div></div>
</div>
<div id="tabs"><div class="top0"></div><div class="top1"></div><div class="top"></div><div class="bot1"></div><div class="bot2"></div>
<svg width="1206" height="27" viewBox="0 679 1206 27" style="position:absolute;left:0;top:0" font-family="'Liberation Sans', Arial, sans-serif" font-size="13" fill="#767676">
<text x="14.9" y="696" textLength="68.7" lengthAdjust="spacingAndGlyphs">EURUSD,H4</text>
<text x="105.6" y="696" textLength="83.3" lengthAdjust="spacingAndGlyphs">AUDUSD,Daily</text>
<text x="209.1" y="696" textLength="67.7" lengthAdjust="spacingAndGlyphs">USDCHF,H4</text>
<text x="401.2" y="696" textLength="83.5" lengthAdjust="spacingAndGlyphs">USDCNH,Daily</text>
<text x="506.6" y="696" textLength="52.7" lengthAdjust="spacingAndGlyphs">UKOil,H1</text>
<text x="580.9" y="696" textLength="47.8" lengthAdjust="spacingAndGlyphs">DJ30,H1</text>
<text x="650.9" y="696" textLength="52.4" lengthAdjust="spacingAndGlyphs">USDX,H1</text>
<text x="725.5" y="696" textLength="70.0" lengthAdjust="spacingAndGlyphs">XAUUSD,H1</text>
<text x="818.7" y="696" textLength="69.0" lengthAdjust="spacingAndGlyphs">GBPUSD,H1</text>
</svg>
<u style="left:95px"></u>
<u style="left:199px"></u>
<u style="left:495px"></u>
<u style="left:571px"></u>
<u style="left:639px"></u>
<u style="left:715px"></u>
<u style="left:807px"></u>
<u style="left:899px"></u>
<div class="act"></div>
<svg width="110" height="27" viewBox="285 679 110 27" style="position:absolute;left:285px;top:0" font-family="'Liberation Sans', Arial, sans-serif" font-size="13" fill="#000"><text x="298" y="696" textLength="81.4" lengthAdjust="spacingAndGlyphs">USDCAD,Daily</text></svg>
<svg width="40" height="10" viewBox="1170 685 40 10" style="position:absolute;left:1170px;top:6px"><path d="M1183 687l-3.2 3l3.2 3z M1199 687l3.2 3l-3.2 3z" fill="#8c8c8c"/></svg>
</div>
</body></html>
